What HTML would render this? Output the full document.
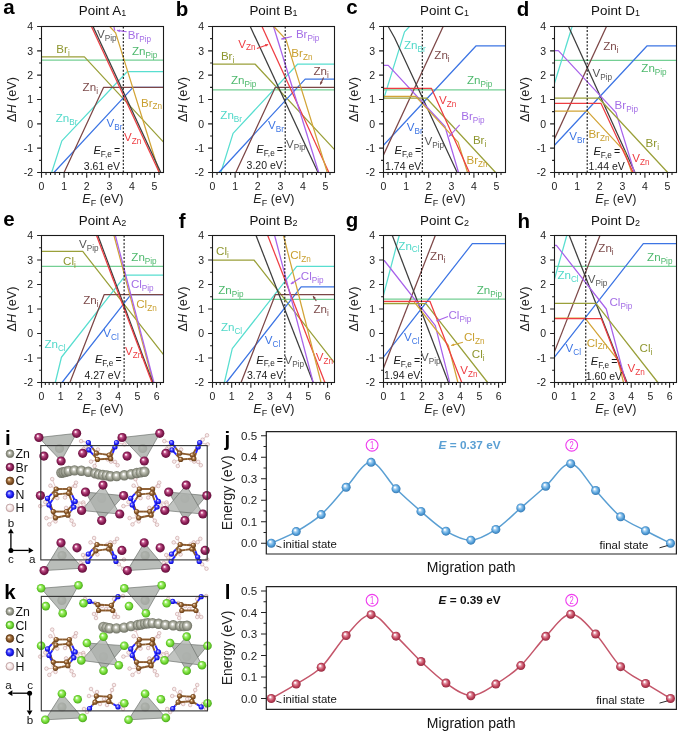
<!DOCTYPE html><html><head><meta charset="utf-8"><style>html,body{margin:0;padding:0;background:#fff;}svg{display:block;will-change:transform;}text{font-family:"Liberation Sans", sans-serif;}</style></head><body>
<svg width="685" height="731" viewBox="0 0 685 731">
<rect width="685" height="731" fill="#fff"/>
<defs><clipPath id="cpa"><rect x="41.50" y="26.50" width="122.00" height="146.00"/></clipPath><clipPath id="cpb"><rect x="212.50" y="26.50" width="122.00" height="146.00"/></clipPath><clipPath id="cpc"><rect x="383.50" y="26.50" width="122.00" height="146.00"/></clipPath><clipPath id="cpd"><rect x="554.50" y="26.50" width="122.00" height="146.00"/></clipPath><clipPath id="cpe"><rect x="41.50" y="235.50" width="122.00" height="147.00"/></clipPath><clipPath id="cpf"><rect x="212.50" y="235.50" width="122.00" height="147.00"/></clipPath><clipPath id="cpg"><rect x="383.50" y="235.50" width="122.00" height="147.00"/></clipPath><clipPath id="cph"><rect x="554.50" y="235.50" width="122.00" height="147.00"/></clipPath></defs>
<g clip-path="url(#cpa)" fill="none" stroke-width="1.25" stroke-linejoin="round"><polyline points="41.50,60.08 177.10,60.08" stroke="#74cf94"/><polyline points="41.50,56.92 84.44,56.92 165.80,144.52" stroke="#9aa03a"/><polyline points="51.67,172.50 61.84,140.87 127.38,71.52 177.10,71.52" stroke="#58ded0"/><polyline points="53.93,172.50 133.03,87.33 177.10,87.33" stroke="#3d75e4"/><polyline points="64.10,172.50 103.65,87.33 177.10,87.33" stroke="#7c4646"/><polyline points="109.30,26.01 115.63,32.83 159.25,172.50" stroke="#d2a437"/><polyline points="113.82,26.01 114.72,30.64" stroke="#a862ea"/><polyline points="91.45,26.50 159.25,172.50" stroke="#ee3d42"/><polyline points="93.03,26.50 160.83,172.50" stroke="#3d3d3d"/><line x1="123.31" y1="26.50" x2="123.31" y2="172.50" stroke="#111" stroke-width="1.1" stroke-dasharray="2,1.6"/></g><rect x="41.50" y="26.50" width="122.00" height="146.00" fill="none" stroke="#1a1a1a" stroke-width="1.1"/><path d="M41.50 172.50V177.70M46.02 172.50V175.00M50.54 172.50V175.00M55.06 172.50V175.00M59.58 172.50V175.00M64.10 172.50V177.70M68.62 172.50V175.00M73.14 172.50V175.00M77.66 172.50V175.00M82.18 172.50V175.00M86.70 172.50V177.70M91.22 172.50V175.00M95.74 172.50V175.00M100.26 172.50V175.00M104.78 172.50V175.00M109.30 172.50V177.70M113.82 172.50V175.00M118.34 172.50V175.00M122.86 172.50V175.00M127.38 172.50V175.00M131.90 172.50V177.70M136.42 172.50V175.00M140.94 172.50V175.00M145.46 172.50V175.00M149.98 172.50V175.00M154.50 172.50V177.70M159.02 172.50V175.00M37.10 172.50H41.50M39.10 160.33H41.50M37.10 148.17H41.50M39.10 136.00H41.50M37.10 123.83H41.50M39.10 111.67H41.50M37.10 99.50H41.50M39.10 87.33H41.50M37.10 75.17H41.50M39.10 63.00H41.50M37.10 50.83H41.50M39.10 38.67H41.50M37.10 26.50H41.50" stroke="#222" stroke-width="1.1" fill="none"/><g font-size="10.5" fill="#222"><text x="33.10" y="176.20" text-anchor="end">-2</text><text x="33.10" y="151.87" text-anchor="end">-1</text><text x="33.10" y="127.53" text-anchor="end">0</text><text x="33.10" y="103.20" text-anchor="end">1</text><text x="33.10" y="78.87" text-anchor="end">2</text><text x="33.10" y="54.53" text-anchor="end">3</text><text x="33.10" y="30.20" text-anchor="end">4</text><text x="41.50" y="189.80" text-anchor="middle">0</text><text x="64.10" y="189.80" text-anchor="middle">1</text><text x="86.70" y="189.80" text-anchor="middle">2</text><text x="109.30" y="189.80" text-anchor="middle">3</text><text x="131.90" y="189.80" text-anchor="middle">4</text><text x="154.50" y="189.80" text-anchor="middle">5</text></g><text x="102.90" y="203.20" font-size="12.6" fill="#222" text-anchor="middle"><tspan font-style="italic">E</tspan><tspan font-size="9" dy="2.6">F</tspan><tspan dy="-2.6"> (eV)</tspan></text><text transform="translate(15.90 99.50) rotate(-90)" font-size="12.6" fill="#222" text-anchor="middle">&#916;<tspan font-style="italic">H</tspan> (eV)</text><text x="102.50" y="14.60" font-size="13.4" fill="#111" text-anchor="middle">Point A<tspan font-size="9" dy="1.7">1</tspan></text><text x="97.00" y="38.00" font-size="11.6" fill="#555555">V<tspan font-size="8.2" dy="2.9">Pip</tspan></text><text x="127.70" y="39.10" font-size="11.6" fill="#a46ee6">Br<tspan font-size="8.2" dy="2.9">Pip</tspan></text><text x="56.30" y="52.80" font-size="11.6" fill="#8e962e">Br<tspan font-size="8.2" dy="2.9">i</tspan></text><text x="131.90" y="55.00" font-size="11.6" fill="#4db86c">Zn<tspan font-size="8.2" dy="2.9">Pip</tspan></text><text x="82.60" y="91.00" font-size="11.6" fill="#7c4a4a">Zn<tspan font-size="8.2" dy="2.9">i</tspan></text><text x="141.00" y="106.50" font-size="11.6" fill="#c9a030">Br<tspan font-size="8.2" dy="2.9">Zn</tspan></text><text x="55.70" y="121.70" font-size="11.6" fill="#4fd8c8">Zn<tspan font-size="8.2" dy="2.9">Br</tspan></text><text x="106.50" y="127.00" font-size="11.6" fill="#3d75e4">V<tspan font-size="8.2" dy="2.9">Br</tspan></text><text x="124.10" y="140.80" font-size="11.6" fill="#ee3d42">V<tspan font-size="8.2" dy="2.9">Zn</tspan></text><text x="93.40" y="154.40" font-size="11.2" fill="#1a1a1a"><tspan font-style="italic">E</tspan><tspan font-size="8.2" dy="2.6">F,e</tspan><tspan dy="-2.6" dx="-0.8" font-size="10.6"> =</tspan></text><text x="83.80" y="169.50" font-size="10.5" fill="#1a1a1a">3.61 eV</text><path d="M126.60 31.80L117.00 30.40" stroke="#a862ea" stroke-width="1.1" fill="none"/><path d="M117.00 30.40L120.05 29.44L119.65 32.19z" fill="#a862ea"/>
<g clip-path="url(#cpb)" fill="none" stroke-width="1.25" stroke-linejoin="round"><polyline points="212.50,89.77 348.10,89.77" stroke="#74cf94"/><polyline points="212.50,64.22 255.21,64.22 336.80,152.06" stroke="#9aa03a"/><polyline points="220.86,172.50 233.07,133.32 297.48,64.22 348.10,64.22" stroke="#58ded0"/><polyline points="218.83,172.50 305.16,79.06 348.10,79.06" stroke="#3d75e4"/><polyline points="235.78,172.50 275.33,87.33 348.10,87.33" stroke="#7c4646"/><polyline points="250.24,26.50 318.04,172.50" stroke="#3d3d3d"/><polyline points="261.99,26.50 328.89,172.50" stroke="#ee3d42"/><polyline points="273.52,26.50 318.72,172.50" stroke="#a862ea"/><polyline points="273.75,26.50 285.95,39.40 327.31,172.50" stroke="#d2a437"/><line x1="285.20" y1="26.50" x2="285.20" y2="172.50" stroke="#111" stroke-width="1.1" stroke-dasharray="2,1.6"/></g><rect x="212.50" y="26.50" width="122.00" height="146.00" fill="none" stroke="#1a1a1a" stroke-width="1.1"/><path d="M212.50 172.50V177.70M217.02 172.50V175.00M221.54 172.50V175.00M226.06 172.50V175.00M230.58 172.50V175.00M235.10 172.50V177.70M239.62 172.50V175.00M244.14 172.50V175.00M248.66 172.50V175.00M253.18 172.50V175.00M257.70 172.50V177.70M262.22 172.50V175.00M266.74 172.50V175.00M271.26 172.50V175.00M275.78 172.50V175.00M280.30 172.50V177.70M284.82 172.50V175.00M289.34 172.50V175.00M293.86 172.50V175.00M298.38 172.50V175.00M302.90 172.50V177.70M307.42 172.50V175.00M311.94 172.50V175.00M316.46 172.50V175.00M320.98 172.50V175.00M325.50 172.50V177.70M330.02 172.50V175.00M208.10 172.50H212.50M210.10 160.33H212.50M208.10 148.17H212.50M210.10 136.00H212.50M208.10 123.83H212.50M210.10 111.67H212.50M208.10 99.50H212.50M210.10 87.33H212.50M208.10 75.17H212.50M210.10 63.00H212.50M208.10 50.83H212.50M210.10 38.67H212.50M208.10 26.50H212.50" stroke="#222" stroke-width="1.1" fill="none"/><g font-size="10.5" fill="#222"><text x="204.10" y="176.20" text-anchor="end">-2</text><text x="204.10" y="151.87" text-anchor="end">-1</text><text x="204.10" y="127.53" text-anchor="end">0</text><text x="204.10" y="103.20" text-anchor="end">1</text><text x="204.10" y="78.87" text-anchor="end">2</text><text x="204.10" y="54.53" text-anchor="end">3</text><text x="204.10" y="30.20" text-anchor="end">4</text><text x="212.50" y="189.80" text-anchor="middle">0</text><text x="235.10" y="189.80" text-anchor="middle">1</text><text x="257.70" y="189.80" text-anchor="middle">2</text><text x="280.30" y="189.80" text-anchor="middle">3</text><text x="302.90" y="189.80" text-anchor="middle">4</text><text x="325.50" y="189.80" text-anchor="middle">5</text></g><text x="273.90" y="203.20" font-size="12.6" fill="#222" text-anchor="middle"><tspan font-style="italic">E</tspan><tspan font-size="9" dy="2.6">F</tspan><tspan dy="-2.6"> (eV)</tspan></text><text transform="translate(186.90 99.50) rotate(-90)" font-size="12.6" fill="#222" text-anchor="middle">&#916;<tspan font-style="italic">H</tspan> (eV)</text><text x="273.50" y="14.60" font-size="13.4" fill="#111" text-anchor="middle">Point B<tspan font-size="9" dy="1.7">1</tspan></text><text x="238.30" y="47.50" font-size="11.6" fill="#ee3d42">V<tspan font-size="8.2" dy="2.9">Zn</tspan></text><text x="295.90" y="38.00" font-size="11.6" fill="#a46ee6">Br<tspan font-size="8.2" dy="2.9">Pip</tspan></text><text x="220.90" y="60.30" font-size="11.6" fill="#8e962e">Br<tspan font-size="8.2" dy="2.9">i</tspan></text><text x="291.30" y="57.10" font-size="11.6" fill="#c9a030">Br<tspan font-size="8.2" dy="2.9">Zn</tspan></text><text x="313.50" y="74.70" font-size="11.6" fill="#7c4a4a">Zn<tspan font-size="8.2" dy="2.9">i</tspan></text><text x="230.90" y="83.60" font-size="11.6" fill="#4db86c">Zn<tspan font-size="8.2" dy="2.9">Pip</tspan></text><text x="220.30" y="119.20" font-size="11.6" fill="#4fd8c8">Zn<tspan font-size="8.2" dy="2.9">Br</tspan></text><text x="268.00" y="129.10" font-size="11.6" fill="#3d75e4">V<tspan font-size="8.2" dy="2.9">Br</tspan></text><text x="286.00" y="147.50" font-size="11.6" fill="#555555">V<tspan font-size="8.2" dy="2.9">Pip</tspan></text><text x="256.30" y="152.90" font-size="11.2" fill="#1a1a1a"><tspan font-style="italic">E</tspan><tspan font-size="8.2" dy="2.6">F,e</tspan><tspan dy="-2.6" dx="-0.8" font-size="10.6"> =</tspan></text><text x="246.60" y="169.10" font-size="10.5" fill="#1a1a1a">3.20 eV</text><path d="M256.90 48.60L268.10 44.40" stroke="#ee3d42" stroke-width="1.1" fill="none"/><path d="M268.10 44.40L265.89 46.72L264.91 44.11z" fill="#ee3d42"/><path d="M291.90 36.50L281.30 39.10" stroke="#a862ea" stroke-width="1.1" fill="none"/><path d="M281.30 39.10L283.77 37.06L284.43 39.77z" fill="#a862ea"/><path d="M323.60 77.40L320.30 84.60" stroke="#7c4646" stroke-width="1.1" fill="none"/><path d="M320.30 84.60L320.24 81.40L322.77 82.56z" fill="#7c4646"/>
<g clip-path="url(#cpc)" fill="none" stroke-width="1.25" stroke-linejoin="round"><polyline points="383.50,89.77 519.10,89.77" stroke="#74cf94"/><polyline points="383.50,99.50 404.52,31.85 409.49,26.50" stroke="#58ded0"/><polyline points="383.50,145.25 475.93,45.97 519.10,45.97" stroke="#3d75e4"/><polyline points="383.50,154.98 443.16,26.50" stroke="#7c4646"/><polyline points="388.25,26.50 394.57,37.69 457.18,172.50" stroke="#3d3d3d"/><polyline points="383.50,65.43 388.25,65.43 444.97,126.51 458.53,172.50" stroke="#a862ea"/><polyline points="383.50,98.04 426.44,98.04 495.60,172.50" stroke="#9aa03a"/><polyline points="383.50,96.34 415.59,96.34 458.08,142.08 467.57,172.50" stroke="#d2a437"/><polyline points="383.50,88.31 431.41,88.31 469.38,172.50" stroke="#ee3d42"/><line x1="422.30" y1="26.50" x2="422.30" y2="172.50" stroke="#111" stroke-width="1.1" stroke-dasharray="2,1.6"/></g><rect x="383.50" y="26.50" width="122.00" height="146.00" fill="none" stroke="#1a1a1a" stroke-width="1.1"/><path d="M383.50 172.50V177.70M388.02 172.50V175.00M392.54 172.50V175.00M397.06 172.50V175.00M401.58 172.50V175.00M406.10 172.50V177.70M410.62 172.50V175.00M415.14 172.50V175.00M419.66 172.50V175.00M424.18 172.50V175.00M428.70 172.50V177.70M433.22 172.50V175.00M437.74 172.50V175.00M442.26 172.50V175.00M446.78 172.50V175.00M451.30 172.50V177.70M455.82 172.50V175.00M460.34 172.50V175.00M464.86 172.50V175.00M469.38 172.50V175.00M473.90 172.50V177.70M478.42 172.50V175.00M482.94 172.50V175.00M487.46 172.50V175.00M491.98 172.50V175.00M496.50 172.50V177.70M501.02 172.50V175.00M379.10 172.50H383.50M381.10 160.33H383.50M379.10 148.17H383.50M381.10 136.00H383.50M379.10 123.83H383.50M381.10 111.67H383.50M379.10 99.50H383.50M381.10 87.33H383.50M379.10 75.17H383.50M381.10 63.00H383.50M379.10 50.83H383.50M381.10 38.67H383.50M379.10 26.50H383.50" stroke="#222" stroke-width="1.1" fill="none"/><g font-size="10.5" fill="#222"><text x="375.10" y="176.20" text-anchor="end">-2</text><text x="375.10" y="151.87" text-anchor="end">-1</text><text x="375.10" y="127.53" text-anchor="end">0</text><text x="375.10" y="103.20" text-anchor="end">1</text><text x="375.10" y="78.87" text-anchor="end">2</text><text x="375.10" y="54.53" text-anchor="end">3</text><text x="375.10" y="30.20" text-anchor="end">4</text><text x="383.50" y="189.80" text-anchor="middle">0</text><text x="406.10" y="189.80" text-anchor="middle">1</text><text x="428.70" y="189.80" text-anchor="middle">2</text><text x="451.30" y="189.80" text-anchor="middle">3</text><text x="473.90" y="189.80" text-anchor="middle">4</text><text x="496.50" y="189.80" text-anchor="middle">5</text></g><text x="444.90" y="203.20" font-size="12.6" fill="#222" text-anchor="middle"><tspan font-style="italic">E</tspan><tspan font-size="9" dy="2.6">F</tspan><tspan dy="-2.6"> (eV)</tspan></text><text transform="translate(357.90 99.50) rotate(-90)" font-size="12.6" fill="#222" text-anchor="middle">&#916;<tspan font-style="italic">H</tspan> (eV)</text><text x="444.50" y="14.60" font-size="13.4" fill="#111" text-anchor="middle">Point C<tspan font-size="9" dy="1.7">1</tspan></text><text x="404.00" y="48.60" font-size="11.6" fill="#4fd8c8">Zn<tspan font-size="8.2" dy="2.9">Br</tspan></text><text x="434.30" y="59.20" font-size="11.6" fill="#7c4a4a">Zn<tspan font-size="8.2" dy="2.9">i</tspan></text><text x="466.90" y="83.60" font-size="11.6" fill="#4db86c">Zn<tspan font-size="8.2" dy="2.9">Pip</tspan></text><text x="439.00" y="104.30" font-size="11.6" fill="#ee3d42">V<tspan font-size="8.2" dy="2.9">Zn</tspan></text><text x="461.20" y="119.60" font-size="11.6" fill="#a46ee6">Br<tspan font-size="8.2" dy="2.9">Pip</tspan></text><text x="406.80" y="131.30" font-size="11.6" fill="#3d75e4">V<tspan font-size="8.2" dy="2.9">Br</tspan></text><text x="472.90" y="144.00" font-size="11.6" fill="#8e962e">Br<tspan font-size="8.2" dy="2.9">i</tspan></text><text x="424.60" y="145.00" font-size="11.6" fill="#555555">V<tspan font-size="8.2" dy="2.9">Pip</tspan></text><text x="466.50" y="164.10" font-size="11.6" fill="#c9a030">Br<tspan font-size="8.2" dy="2.9">Zn</tspan></text><text x="394.50" y="154.40" font-size="11.2" fill="#1a1a1a"><tspan font-style="italic">E</tspan><tspan font-size="8.2" dy="2.6">F,e</tspan><tspan dy="-2.6" dx="-0.8" font-size="10.6"> =</tspan></text><text x="385.10" y="169.50" font-size="10.5" fill="#1a1a1a">1.74 eV</text><path d="M459.70 124.90L449.10 136.50" stroke="#a862ea" stroke-width="1.1" fill="none"/><path d="M449.10 136.50L450.02 133.43L452.07 135.31z" fill="#a862ea"/>
<g clip-path="url(#cpd)" fill="none" stroke-width="1.25" stroke-linejoin="round"><polyline points="554.50,60.32 690.10,60.32" stroke="#74cf94"/><polyline points="554.50,83.20 572.13,26.50" stroke="#58ded0"/><polyline points="554.50,145.25 646.93,45.97 690.10,45.97" stroke="#3d75e4"/><polyline points="554.50,138.68 606.48,26.50" stroke="#7c4646"/><polyline points="568.51,26.50 634.96,172.50" stroke="#3d3d3d"/><polyline points="554.50,50.59 558.34,50.59 615.97,112.64 634.50,172.50" stroke="#a862ea"/><polyline points="554.50,98.04 598.57,98.04 667.73,172.50" stroke="#9aa03a"/><polyline points="554.50,111.18 587.27,111.18 624.56,151.33 631.79,172.50" stroke="#d2a437"/><polyline points="554.50,103.39 601.06,103.39 633.15,172.50" stroke="#ee3d42"/><line x1="587.20" y1="26.50" x2="587.20" y2="172.50" stroke="#111" stroke-width="1.1" stroke-dasharray="2,1.6"/></g><rect x="554.50" y="26.50" width="122.00" height="146.00" fill="none" stroke="#1a1a1a" stroke-width="1.1"/><path d="M554.50 172.50V177.70M559.02 172.50V175.00M563.54 172.50V175.00M568.06 172.50V175.00M572.58 172.50V175.00M577.10 172.50V177.70M581.62 172.50V175.00M586.14 172.50V175.00M590.66 172.50V175.00M595.18 172.50V175.00M599.70 172.50V177.70M604.22 172.50V175.00M608.74 172.50V175.00M613.26 172.50V175.00M617.78 172.50V175.00M622.30 172.50V177.70M626.82 172.50V175.00M631.34 172.50V175.00M635.86 172.50V175.00M640.38 172.50V175.00M644.90 172.50V177.70M649.42 172.50V175.00M653.94 172.50V175.00M658.46 172.50V175.00M662.98 172.50V175.00M667.50 172.50V177.70M672.02 172.50V175.00M550.10 172.50H554.50M552.10 160.33H554.50M550.10 148.17H554.50M552.10 136.00H554.50M550.10 123.83H554.50M552.10 111.67H554.50M550.10 99.50H554.50M552.10 87.33H554.50M550.10 75.17H554.50M552.10 63.00H554.50M550.10 50.83H554.50M552.10 38.67H554.50M550.10 26.50H554.50" stroke="#222" stroke-width="1.1" fill="none"/><g font-size="10.5" fill="#222"><text x="546.10" y="176.20" text-anchor="end">-2</text><text x="546.10" y="151.87" text-anchor="end">-1</text><text x="546.10" y="127.53" text-anchor="end">0</text><text x="546.10" y="103.20" text-anchor="end">1</text><text x="546.10" y="78.87" text-anchor="end">2</text><text x="546.10" y="54.53" text-anchor="end">3</text><text x="546.10" y="30.20" text-anchor="end">4</text><text x="554.50" y="189.80" text-anchor="middle">0</text><text x="577.10" y="189.80" text-anchor="middle">1</text><text x="599.70" y="189.80" text-anchor="middle">2</text><text x="622.30" y="189.80" text-anchor="middle">3</text><text x="644.90" y="189.80" text-anchor="middle">4</text><text x="667.50" y="189.80" text-anchor="middle">5</text></g><text x="615.90" y="203.20" font-size="12.6" fill="#222" text-anchor="middle"><tspan font-style="italic">E</tspan><tspan font-size="9" dy="2.6">F</tspan><tspan dy="-2.6"> (eV)</tspan></text><text transform="translate(528.90 99.50) rotate(-90)" font-size="12.6" fill="#222" text-anchor="middle">&#916;<tspan font-style="italic">H</tspan> (eV)</text><text x="615.50" y="14.60" font-size="13.4" fill="#111" text-anchor="middle">Point D<tspan font-size="9" dy="1.7">1</tspan></text><text x="603.20" y="49.70" font-size="11.6" fill="#7c4a4a">Zn<tspan font-size="8.2" dy="2.9">i</tspan></text><text x="592.60" y="76.80" font-size="11.6" fill="#555555">V<tspan font-size="8.2" dy="2.9">Pip</tspan></text><text x="641.30" y="71.90" font-size="11.6" fill="#4db86c">Zn<tspan font-size="8.2" dy="2.9">Pip</tspan></text><text x="614.60" y="108.60" font-size="11.6" fill="#a46ee6">Br<tspan font-size="8.2" dy="2.9">Pip</tspan></text><text x="569.30" y="139.70" font-size="11.6" fill="#3d75e4">V<tspan font-size="8.2" dy="2.9">Br</tspan></text><text x="588.40" y="137.60" font-size="11.6" fill="#c9a030">Br<tspan font-size="8.2" dy="2.9">Zn</tspan></text><text x="645.60" y="147.10" font-size="11.6" fill="#8e962e">Br<tspan font-size="8.2" dy="2.9">i</tspan></text><text x="632.20" y="162.40" font-size="11.6" fill="#ee3d42">V<tspan font-size="8.2" dy="2.9">Zn</tspan></text><text x="593.40" y="155.40" font-size="11.2" fill="#1a1a1a"><tspan font-style="italic">E</tspan><tspan font-size="8.2" dy="2.6">F,e</tspan><tspan dy="-2.6" dx="-0.8" font-size="10.6"> =</tspan></text><text x="588.60" y="169.50" font-size="10.5" fill="#1a1a1a">1.44 eV</text>
<g clip-path="url(#cpe)" fill="none" stroke-width="1.25" stroke-linejoin="round"><polyline points="41.50,266.37 175.76,266.37" stroke="#74cf94"/><polyline points="41.50,251.43 82.74,251.43 166.17,358.00" stroke="#9aa03a"/><polyline points="55.31,382.50 61.45,357.26 125.70,275.19 175.76,275.19" stroke="#58ded0"/><polyline points="62.02,382.50 130.88,294.55 175.76,294.55" stroke="#3d75e4"/><polyline points="69.89,382.50 104.22,294.55 175.76,294.55" stroke="#7c4646"/><polyline points="114.00,235.50 153.13,382.50" stroke="#d2a437"/><polyline points="115.34,235.50 153.89,382.50" stroke="#a862ea"/><polyline points="97.89,235.50 152.74,382.50" stroke="#3d3d3d"/><polyline points="96.55,235.50 151.98,382.50" stroke="#ee3d42"/><line x1="124.11" y1="235.50" x2="124.11" y2="382.50" stroke="#111" stroke-width="1.1" stroke-dasharray="2,1.6"/></g><rect x="41.50" y="235.50" width="122.00" height="147.00" fill="none" stroke="#1a1a1a" stroke-width="1.1"/><path d="M41.50 382.50V387.70M45.34 382.50V385.00M49.17 382.50V385.00M53.01 382.50V385.00M56.84 382.50V385.00M60.68 382.50V387.70M64.52 382.50V385.00M68.35 382.50V385.00M72.19 382.50V385.00M76.02 382.50V385.00M79.86 382.50V387.70M83.70 382.50V385.00M87.53 382.50V385.00M91.37 382.50V385.00M95.20 382.50V385.00M99.04 382.50V387.70M102.88 382.50V385.00M106.71 382.50V385.00M110.55 382.50V385.00M114.38 382.50V385.00M118.22 382.50V387.70M122.06 382.50V385.00M125.89 382.50V385.00M129.73 382.50V385.00M133.56 382.50V385.00M137.40 382.50V387.70M141.24 382.50V385.00M145.07 382.50V385.00M148.91 382.50V385.00M152.74 382.50V385.00M156.58 382.50V387.70M160.42 382.50V385.00M37.10 382.50H41.50M39.10 370.25H41.50M37.10 358.00H41.50M39.10 345.75H41.50M37.10 333.50H41.50M39.10 321.25H41.50M37.10 309.00H41.50M39.10 296.75H41.50M37.10 284.50H41.50M39.10 272.25H41.50M37.10 260.00H41.50M39.10 247.75H41.50M37.10 235.50H41.50" stroke="#222" stroke-width="1.1" fill="none"/><g font-size="10.5" fill="#222"><text x="33.10" y="386.20" text-anchor="end">-2</text><text x="33.10" y="361.70" text-anchor="end">-1</text><text x="33.10" y="337.20" text-anchor="end">0</text><text x="33.10" y="312.70" text-anchor="end">1</text><text x="33.10" y="288.20" text-anchor="end">2</text><text x="33.10" y="263.70" text-anchor="end">3</text><text x="33.10" y="239.20" text-anchor="end">4</text><text x="41.50" y="399.80" text-anchor="middle">0</text><text x="60.68" y="399.80" text-anchor="middle">1</text><text x="79.86" y="399.80" text-anchor="middle">2</text><text x="99.04" y="399.80" text-anchor="middle">3</text><text x="118.22" y="399.80" text-anchor="middle">4</text><text x="137.40" y="399.80" text-anchor="middle">5</text><text x="156.58" y="399.80" text-anchor="middle">6</text></g><text x="102.90" y="413.20" font-size="12.6" fill="#222" text-anchor="middle"><tspan font-style="italic">E</tspan><tspan font-size="9" dy="2.6">F</tspan><tspan dy="-2.6"> (eV)</tspan></text><text transform="translate(15.90 309.00) rotate(-90)" font-size="12.6" fill="#222" text-anchor="middle">&#916;<tspan font-style="italic">H</tspan> (eV)</text><text x="102.50" y="224.60" font-size="13.4" fill="#111" text-anchor="middle">Point A<tspan font-size="9" dy="1.7">2</tspan></text><text x="79.00" y="248.00" font-size="11.6" fill="#555555">V<tspan font-size="8.2" dy="2.9">Pip</tspan></text><text x="131.30" y="260.70" font-size="11.6" fill="#4db86c">Zn<tspan font-size="8.2" dy="2.9">Pip</tspan></text><text x="63.10" y="265.00" font-size="11.6" fill="#8e962e">Cl<tspan font-size="8.2" dy="2.9">i</tspan></text><text x="130.90" y="288.30" font-size="11.6" fill="#a46ee6">Cl<tspan font-size="8.2" dy="2.9">Pip</tspan></text><text x="83.20" y="303.70" font-size="11.6" fill="#7c4a4a">Zn<tspan font-size="8.2" dy="2.9">i</tspan></text><text x="136.20" y="308.40" font-size="11.6" fill="#c9a030">Cl<tspan font-size="8.2" dy="2.9">Zn</tspan></text><text x="103.30" y="337.00" font-size="11.6" fill="#3d75e4">V<tspan font-size="8.2" dy="2.9">Cl</tspan></text><text x="44.40" y="347.60" font-size="11.6" fill="#4fd8c8">Zn<tspan font-size="8.2" dy="2.9">Cl</tspan></text><text x="124.90" y="355.40" font-size="11.6" fill="#ee3d42">V<tspan font-size="8.2" dy="2.9">Zn</tspan></text><text x="94.90" y="362.90" font-size="11.2" fill="#1a1a1a"><tspan font-style="italic">E</tspan><tspan font-size="8.2" dy="2.6">F,e</tspan><tspan dy="-2.6" dx="-0.8" font-size="10.6"> =</tspan></text><text x="84.50" y="378.50" font-size="10.5" fill="#1a1a1a">4.27 eV</text>
<g clip-path="url(#cpf)" fill="none" stroke-width="1.25" stroke-linejoin="round"><polyline points="212.50,299.44 346.76,299.44" stroke="#74cf94"/><polyline points="212.50,260.00 253.93,260.00 337.17,366.33" stroke="#9aa03a"/><polyline points="224.39,382.50 232.26,348.69 296.70,266.37 346.76,266.37" stroke="#58ded0"/><polyline points="226.31,382.50 301.11,286.95 346.76,286.95" stroke="#3d75e4"/><polyline points="241.08,382.50 275.41,294.55 346.76,294.55" stroke="#7c4646"/><polyline points="256.04,235.50 313.19,382.50" stroke="#3d3d3d"/><polyline points="267.74,235.50 324.89,382.50" stroke="#ee3d42"/><polyline points="274.64,235.50 313.19,382.50" stroke="#a862ea"/><polyline points="283.47,235.50 321.06,382.50" stroke="#d2a437"/><line x1="284.81" y1="235.50" x2="284.81" y2="382.50" stroke="#111" stroke-width="1.1" stroke-dasharray="2,1.6"/></g><rect x="212.50" y="235.50" width="122.00" height="147.00" fill="none" stroke="#1a1a1a" stroke-width="1.1"/><path d="M212.50 382.50V387.70M216.34 382.50V385.00M220.17 382.50V385.00M224.01 382.50V385.00M227.84 382.50V385.00M231.68 382.50V387.70M235.52 382.50V385.00M239.35 382.50V385.00M243.19 382.50V385.00M247.02 382.50V385.00M250.86 382.50V387.70M254.70 382.50V385.00M258.53 382.50V385.00M262.37 382.50V385.00M266.20 382.50V385.00M270.04 382.50V387.70M273.88 382.50V385.00M277.71 382.50V385.00M281.55 382.50V385.00M285.38 382.50V385.00M289.22 382.50V387.70M293.06 382.50V385.00M296.89 382.50V385.00M300.73 382.50V385.00M304.56 382.50V385.00M308.40 382.50V387.70M312.24 382.50V385.00M316.07 382.50V385.00M319.91 382.50V385.00M323.74 382.50V385.00M327.58 382.50V387.70M331.42 382.50V385.00M208.10 382.50H212.50M210.10 370.25H212.50M208.10 358.00H212.50M210.10 345.75H212.50M208.10 333.50H212.50M210.10 321.25H212.50M208.10 309.00H212.50M210.10 296.75H212.50M208.10 284.50H212.50M210.10 272.25H212.50M208.10 260.00H212.50M210.10 247.75H212.50M208.10 235.50H212.50" stroke="#222" stroke-width="1.1" fill="none"/><g font-size="10.5" fill="#222"><text x="204.10" y="386.20" text-anchor="end">-2</text><text x="204.10" y="361.70" text-anchor="end">-1</text><text x="204.10" y="337.20" text-anchor="end">0</text><text x="204.10" y="312.70" text-anchor="end">1</text><text x="204.10" y="288.20" text-anchor="end">2</text><text x="204.10" y="263.70" text-anchor="end">3</text><text x="204.10" y="239.20" text-anchor="end">4</text><text x="212.50" y="399.80" text-anchor="middle">0</text><text x="231.68" y="399.80" text-anchor="middle">1</text><text x="250.86" y="399.80" text-anchor="middle">2</text><text x="270.04" y="399.80" text-anchor="middle">3</text><text x="289.22" y="399.80" text-anchor="middle">4</text><text x="308.40" y="399.80" text-anchor="middle">5</text><text x="327.58" y="399.80" text-anchor="middle">6</text></g><text x="273.90" y="413.20" font-size="12.6" fill="#222" text-anchor="middle"><tspan font-style="italic">E</tspan><tspan font-size="9" dy="2.6">F</tspan><tspan dy="-2.6"> (eV)</tspan></text><text transform="translate(186.90 309.00) rotate(-90)" font-size="12.6" fill="#222" text-anchor="middle">&#916;<tspan font-style="italic">H</tspan> (eV)</text><text x="273.50" y="224.60" font-size="13.4" fill="#111" text-anchor="middle">Point B<tspan font-size="9" dy="1.7">2</tspan></text><text x="216.10" y="255.00" font-size="11.6" fill="#8e962e">Cl<tspan font-size="8.2" dy="2.9">i</tspan></text><text x="290.20" y="258.60" font-size="11.6" fill="#c9a030">Cl<tspan font-size="8.2" dy="2.9">Zn</tspan></text><text x="300.80" y="279.80" font-size="11.6" fill="#a46ee6">Cl<tspan font-size="8.2" dy="2.9">Pip</tspan></text><text x="218.20" y="293.60" font-size="11.6" fill="#4db86c">Zn<tspan font-size="8.2" dy="2.9">Pip</tspan></text><text x="313.50" y="312.60" font-size="11.6" fill="#7c4a4a">Zn<tspan font-size="8.2" dy="2.9">i</tspan></text><text x="220.90" y="330.70" font-size="11.6" fill="#4fd8c8">Zn<tspan font-size="8.2" dy="2.9">Cl</tspan></text><text x="264.80" y="344.40" font-size="11.6" fill="#3d75e4">V<tspan font-size="8.2" dy="2.9">Cl</tspan></text><text x="284.50" y="363.80" font-size="11.6" fill="#555555">V<tspan font-size="8.2" dy="2.9">Pip</tspan></text><text x="315.70" y="361.40" font-size="11.6" fill="#ee3d42">V<tspan font-size="8.2" dy="2.9">Zn</tspan></text><text x="256.30" y="363.60" font-size="11.2" fill="#1a1a1a"><tspan font-style="italic">E</tspan><tspan font-size="8.2" dy="2.6">F,e</tspan><tspan dy="-2.6" dx="-0.8" font-size="10.6"> =</tspan></text><text x="247.00" y="378.50" font-size="10.5" fill="#1a1a1a">3.74 eV</text><path d="M300.40 277.70L290.80 284.00" stroke="#a862ea" stroke-width="1.1" fill="none"/><path d="M290.80 284.00L292.45 281.26L293.97 283.58z" fill="#a862ea"/><path d="M316.30 301.00L313.10 296.10" stroke="#7c4646" stroke-width="1.1" fill="none"/><path d="M313.10 296.10L315.84 297.75L313.51 299.27z" fill="#7c4646"/>
<g clip-path="url(#cpg)" fill="none" stroke-width="1.25" stroke-linejoin="round"><polyline points="383.50,299.20 517.76,299.20" stroke="#74cf94"/><polyline points="383.50,295.03 399.23,235.50" stroke="#58ded0"/><polyline points="383.50,357.02 472.30,243.59 517.76,243.59" stroke="#3d75e4"/><polyline points="383.50,368.05 435.29,235.50" stroke="#7c4646"/><polyline points="392.32,235.50 448.52,382.50" stroke="#3d3d3d"/><polyline points="383.50,260.74 384.46,260.74 435.29,325.66 449.67,382.50" stroke="#a862ea"/><polyline points="383.50,303.61 425.89,303.61 487.65,382.50" stroke="#9aa03a"/><polyline points="383.50,301.53 414.00,301.53 448.33,345.50 457.92,382.50" stroke="#d2a437"/><polyline points="383.50,301.28 429.92,301.28 461.75,382.50" stroke="#ee3d42"/><line x1="421.48" y1="235.50" x2="421.48" y2="382.50" stroke="#111" stroke-width="1.1" stroke-dasharray="2,1.6"/></g><rect x="383.50" y="235.50" width="122.00" height="147.00" fill="none" stroke="#1a1a1a" stroke-width="1.1"/><path d="M383.50 382.50V387.70M387.34 382.50V385.00M391.17 382.50V385.00M395.01 382.50V385.00M398.84 382.50V385.00M402.68 382.50V387.70M406.52 382.50V385.00M410.35 382.50V385.00M414.19 382.50V385.00M418.02 382.50V385.00M421.86 382.50V387.70M425.70 382.50V385.00M429.53 382.50V385.00M433.37 382.50V385.00M437.20 382.50V385.00M441.04 382.50V387.70M444.88 382.50V385.00M448.71 382.50V385.00M452.55 382.50V385.00M456.38 382.50V385.00M460.22 382.50V387.70M464.06 382.50V385.00M467.89 382.50V385.00M471.73 382.50V385.00M475.56 382.50V385.00M479.40 382.50V387.70M483.24 382.50V385.00M487.07 382.50V385.00M490.91 382.50V385.00M494.74 382.50V385.00M498.58 382.50V387.70M502.42 382.50V385.00M379.10 382.50H383.50M381.10 370.25H383.50M379.10 358.00H383.50M381.10 345.75H383.50M379.10 333.50H383.50M381.10 321.25H383.50M379.10 309.00H383.50M381.10 296.75H383.50M379.10 284.50H383.50M381.10 272.25H383.50M379.10 260.00H383.50M381.10 247.75H383.50M379.10 235.50H383.50" stroke="#222" stroke-width="1.1" fill="none"/><g font-size="10.5" fill="#222"><text x="375.10" y="386.20" text-anchor="end">-2</text><text x="375.10" y="361.70" text-anchor="end">-1</text><text x="375.10" y="337.20" text-anchor="end">0</text><text x="375.10" y="312.70" text-anchor="end">1</text><text x="375.10" y="288.20" text-anchor="end">2</text><text x="375.10" y="263.70" text-anchor="end">3</text><text x="375.10" y="239.20" text-anchor="end">4</text><text x="383.50" y="399.80" text-anchor="middle">0</text><text x="402.68" y="399.80" text-anchor="middle">1</text><text x="421.86" y="399.80" text-anchor="middle">2</text><text x="441.04" y="399.80" text-anchor="middle">3</text><text x="460.22" y="399.80" text-anchor="middle">4</text><text x="479.40" y="399.80" text-anchor="middle">5</text><text x="498.58" y="399.80" text-anchor="middle">6</text></g><text x="444.90" y="413.20" font-size="12.6" fill="#222" text-anchor="middle"><tspan font-style="italic">E</tspan><tspan font-size="9" dy="2.6">F</tspan><tspan dy="-2.6"> (eV)</tspan></text><text transform="translate(357.90 309.00) rotate(-90)" font-size="12.6" fill="#222" text-anchor="middle">&#916;<tspan font-style="italic">H</tspan> (eV)</text><text x="444.50" y="224.60" font-size="13.4" fill="#111" text-anchor="middle">Point C<tspan font-size="9" dy="1.7">2</tspan></text><text x="398.30" y="249.50" font-size="11.6" fill="#4fd8c8">Zn<tspan font-size="8.2" dy="2.9">Cl</tspan></text><text x="430.10" y="260.10" font-size="11.6" fill="#7c4a4a">Zn<tspan font-size="8.2" dy="2.9">i</tspan></text><text x="476.70" y="293.60" font-size="11.6" fill="#4db86c">Zn<tspan font-size="8.2" dy="2.9">Pip</tspan></text><text x="448.50" y="319.00" font-size="11.6" fill="#a46ee6">Cl<tspan font-size="8.2" dy="2.9">Pip</tspan></text><text x="464.00" y="341.30" font-size="11.6" fill="#c9a030">Cl<tspan font-size="8.2" dy="2.9">Zn</tspan></text><text x="404.00" y="341.30" font-size="11.6" fill="#3d75e4">V<tspan font-size="8.2" dy="2.9">Cl</tspan></text><text x="471.80" y="358.20" font-size="11.6" fill="#8e962e">Cl<tspan font-size="8.2" dy="2.9">i</tspan></text><text x="421.00" y="361.00" font-size="11.6" fill="#555555">V<tspan font-size="8.2" dy="2.9">Pip</tspan></text><text x="460.20" y="374.10" font-size="11.6" fill="#ee3d42">V<tspan font-size="8.2" dy="2.9">Zn</tspan></text><text x="393.40" y="363.90" font-size="11.2" fill="#1a1a1a"><tspan font-style="italic">E</tspan><tspan font-size="8.2" dy="2.6">F,e</tspan><tspan dy="-2.6" dx="-0.8" font-size="10.6"> =</tspan></text><text x="384.10" y="379.10" font-size="10.5" fill="#1a1a1a">1.94 eV</text><path d="M448.00 316.50L436.40 321.10" stroke="#a862ea" stroke-width="1.1" fill="none"/><path d="M436.40 321.10L438.57 318.74L439.59 321.33z" fill="#a862ea"/><path d="M462.90 342.30L451.20 345.50" stroke="#d2a437" stroke-width="1.1" fill="none"/><path d="M451.20 345.50L453.61 343.40L454.35 346.08z" fill="#d2a437"/>
<g clip-path="url(#cph)" fill="none" stroke-width="1.25" stroke-linejoin="round"><polyline points="554.50,266.37 688.76,266.37" stroke="#74cf94"/><polyline points="554.50,279.11 566.78,235.50" stroke="#58ded0"/><polyline points="554.50,357.02 643.30,243.59 688.76,243.59" stroke="#3d75e4"/><polyline points="554.50,351.63 599.96,235.50" stroke="#7c4646"/><polyline points="569.27,235.50 627.00,382.50" stroke="#3d3d3d"/><polyline points="554.50,245.30 556.42,245.30 606.29,309.00 625.85,382.50" stroke="#a862ea"/><polyline points="554.50,303.37 595.93,303.37 657.88,382.50" stroke="#9aa03a"/><polyline points="554.50,318.06 585.00,318.06 617.79,359.96 623.55,382.50" stroke="#d2a437"/><polyline points="554.50,318.56 601.30,318.56 626.23,382.50" stroke="#ee3d42"/><line x1="585.76" y1="235.50" x2="585.76" y2="382.50" stroke="#111" stroke-width="1.1" stroke-dasharray="2,1.6"/></g><rect x="554.50" y="235.50" width="122.00" height="147.00" fill="none" stroke="#1a1a1a" stroke-width="1.1"/><path d="M554.50 382.50V387.70M558.34 382.50V385.00M562.17 382.50V385.00M566.01 382.50V385.00M569.84 382.50V385.00M573.68 382.50V387.70M577.52 382.50V385.00M581.35 382.50V385.00M585.19 382.50V385.00M589.02 382.50V385.00M592.86 382.50V387.70M596.70 382.50V385.00M600.53 382.50V385.00M604.37 382.50V385.00M608.20 382.50V385.00M612.04 382.50V387.70M615.88 382.50V385.00M619.71 382.50V385.00M623.55 382.50V385.00M627.38 382.50V385.00M631.22 382.50V387.70M635.06 382.50V385.00M638.89 382.50V385.00M642.73 382.50V385.00M646.56 382.50V385.00M650.40 382.50V387.70M654.24 382.50V385.00M658.07 382.50V385.00M661.91 382.50V385.00M665.74 382.50V385.00M669.58 382.50V387.70M673.42 382.50V385.00M550.10 382.50H554.50M552.10 370.25H554.50M550.10 358.00H554.50M552.10 345.75H554.50M550.10 333.50H554.50M552.10 321.25H554.50M550.10 309.00H554.50M552.10 296.75H554.50M550.10 284.50H554.50M552.10 272.25H554.50M550.10 260.00H554.50M552.10 247.75H554.50M550.10 235.50H554.50" stroke="#222" stroke-width="1.1" fill="none"/><g font-size="10.5" fill="#222"><text x="546.10" y="386.20" text-anchor="end">-2</text><text x="546.10" y="361.70" text-anchor="end">-1</text><text x="546.10" y="337.20" text-anchor="end">0</text><text x="546.10" y="312.70" text-anchor="end">1</text><text x="546.10" y="288.20" text-anchor="end">2</text><text x="546.10" y="263.70" text-anchor="end">3</text><text x="546.10" y="239.20" text-anchor="end">4</text><text x="554.50" y="399.80" text-anchor="middle">0</text><text x="573.68" y="399.80" text-anchor="middle">1</text><text x="592.86" y="399.80" text-anchor="middle">2</text><text x="612.04" y="399.80" text-anchor="middle">3</text><text x="631.22" y="399.80" text-anchor="middle">4</text><text x="650.40" y="399.80" text-anchor="middle">5</text><text x="669.58" y="399.80" text-anchor="middle">6</text></g><text x="615.90" y="413.20" font-size="12.6" fill="#222" text-anchor="middle"><tspan font-style="italic">E</tspan><tspan font-size="9" dy="2.6">F</tspan><tspan dy="-2.6"> (eV)</tspan></text><text transform="translate(528.90 309.00) rotate(-90)" font-size="12.6" fill="#222" text-anchor="middle">&#916;<tspan font-style="italic">H</tspan> (eV)</text><text x="615.50" y="224.60" font-size="13.4" fill="#111" text-anchor="middle">Point D<tspan font-size="9" dy="1.7">2</tspan></text><text x="598.30" y="252.30" font-size="11.6" fill="#7c4a4a">Zn<tspan font-size="8.2" dy="2.9">i</tspan></text><text x="647.10" y="260.70" font-size="11.6" fill="#4db86c">Zn<tspan font-size="8.2" dy="2.9">Pip</tspan></text><text x="557.40" y="278.70" font-size="11.6" fill="#4fd8c8">Zn<tspan font-size="8.2" dy="2.9">Cl</tspan></text><text x="587.70" y="283.00" font-size="11.6" fill="#555555">V<tspan font-size="8.2" dy="2.9">Pip</tspan></text><text x="609.50" y="306.30" font-size="11.6" fill="#a46ee6">Cl<tspan font-size="8.2" dy="2.9">Pip</tspan></text><text x="565.50" y="351.80" font-size="11.6" fill="#3d75e4">V<tspan font-size="8.2" dy="2.9">Cl</tspan></text><text x="586.70" y="346.50" font-size="11.6" fill="#c9a030">Cl<tspan font-size="8.2" dy="2.9">Zn</tspan></text><text x="639.60" y="351.80" font-size="11.6" fill="#8e962e">Cl<tspan font-size="8.2" dy="2.9">i</tspan></text><text x="627.40" y="372.40" font-size="11.6" fill="#ee3d42">V<tspan font-size="8.2" dy="2.9">Zn</tspan></text><text x="590.70" y="365.10" font-size="11.2" fill="#1a1a1a"><tspan font-style="italic">E</tspan><tspan font-size="8.2" dy="2.6">F,e</tspan><tspan dy="-2.6" dx="-0.8" font-size="10.6"> =</tspan></text><text x="585.80" y="379.50" font-size="10.5" fill="#1a1a1a">1.60 eV</text>
<text x="3.30" y="14.00" font-size="20.5" font-weight="bold" fill="#000">a</text>
<text x="175.80" y="16.00" font-size="20.5" font-weight="bold" fill="#000">b</text>
<text x="346.20" y="14.00" font-size="20.5" font-weight="bold" fill="#000">c</text>
<text x="516.80" y="16.40" font-size="20.5" font-weight="bold" fill="#000">d</text>
<text x="3.30" y="226.00" font-size="20.5" font-weight="bold" fill="#000">e</text>
<text x="178.80" y="227.80" font-size="20.5" font-weight="bold" fill="#000">f</text>
<text x="345.80" y="227.00" font-size="20.5" font-weight="bold" fill="#000">g</text>
<text x="517.60" y="227.90" font-size="20.5" font-weight="bold" fill="#000">h</text>
<defs><radialGradient id="gBr" cx="50%" cy="50%" r="55%" fx="36%" fy="32%"><stop offset="0" stop-color="#ffe6f2"/><stop offset="0.1" stop-color="#ffe6f2"/><stop offset="0.3" stop-color="#c4588e"/><stop offset="0.62" stop-color="#8c1f57"/><stop offset="1" stop-color="#5a0b34"/></radialGradient><radialGradient id="gCl" cx="50%" cy="50%" r="55%" fx="36%" fy="32%"><stop offset="0" stop-color="#f4ffe8"/><stop offset="0.1" stop-color="#f4ffe8"/><stop offset="0.3" stop-color="#a8f07a"/><stop offset="0.62" stop-color="#74dc34"/><stop offset="1" stop-color="#3f9a16"/></radialGradient><radialGradient id="gZn" cx="50%" cy="50%" r="55%" fx="42%" fy="38%"><stop offset="0" stop-color="#ffffff"/><stop offset="0.1" stop-color="#ffffff"/><stop offset="0.3" stop-color="#c6c7bc"/><stop offset="0.62" stop-color="#979a8b"/><stop offset="1" stop-color="#636559"/></radialGradient><radialGradient id="gZnL" cx="50%" cy="50%" r="55%" fx="36%" fy="32%"><stop offset="0" stop-color="#dcdcd4"/><stop offset="0.1" stop-color="#dcdcd4"/><stop offset="0.3" stop-color="#bfc0b6"/><stop offset="0.62" stop-color="#a3a597"/><stop offset="1" stop-color="#7b7d71"/></radialGradient><radialGradient id="gC" cx="50%" cy="50%" r="55%" fx="36%" fy="32%"><stop offset="0" stop-color="#f5e2c8"/><stop offset="0.1" stop-color="#f5e2c8"/><stop offset="0.3" stop-color="#b98a5a"/><stop offset="0.62" stop-color="#8a582a"/><stop offset="1" stop-color="#5a3512"/></radialGradient><radialGradient id="gN" cx="50%" cy="50%" r="55%" fx="36%" fy="32%"><stop offset="0" stop-color="#c8c8ff"/><stop offset="0.1" stop-color="#c8c8ff"/><stop offset="0.3" stop-color="#6a6aff"/><stop offset="0.62" stop-color="#2020ff"/><stop offset="1" stop-color="#0808a8"/></radialGradient><radialGradient id="gH" cx="50%" cy="50%" r="55%" fx="36%" fy="32%"><stop offset="0" stop-color="#ffffff"/><stop offset="0.1" stop-color="#ffffff"/><stop offset="0.3" stop-color="#fbf3f3"/><stop offset="0.62" stop-color="#f3e3e3"/><stop offset="1" stop-color="#c9a9a9"/></radialGradient><radialGradient id="gBlue" cx="50%" cy="50%" r="55%" fx="36%" fy="32%"><stop offset="0" stop-color="#ffffff"/><stop offset="0.1" stop-color="#ffffff"/><stop offset="0.3" stop-color="#a9d2f2"/><stop offset="0.62" stop-color="#5aa5de"/><stop offset="1" stop-color="#2c6ea8"/></radialGradient><radialGradient id="gRed" cx="50%" cy="50%" r="55%" fx="36%" fy="32%"><stop offset="0" stop-color="#ffffff"/><stop offset="0.1" stop-color="#ffffff"/><stop offset="0.3" stop-color="#e49aaa"/><stop offset="0.62" stop-color="#c4485f"/><stop offset="1" stop-color="#862036"/></radialGradient></defs><circle cx="59.50" cy="448.50" r="4.60" fill="url(#gZnL)"/><path d="M38.90 437.50L76.60 433.30L61.10 461.00Z" fill="#a9aea9" fill-opacity="0.82" stroke="#5f645f" stroke-width="0.6" stroke-linejoin="round"/><circle cx="101.70" cy="498.50" r="4.60" fill="url(#gZnL)"/><path d="M85.50 492.10L123.60 495.60L101.70 520.50Z" fill="#a3a8a3" fill-opacity="0.85" stroke="#5f645f" stroke-width="0.6" stroke-linejoin="round"/><path d="M103.00 485.10L81.60 510.50L119.70 514.00Z" fill="#afb4af" fill-opacity="0.78" stroke="#5f645f" stroke-width="0.6" stroke-linejoin="round"/><circle cx="62.00" cy="555.50" r="4.60" fill="url(#gZnL)"/><path d="M61.00 542.80L44.10 570.60L82.40 568.20Z" fill="#a9aea9" fill-opacity="0.82" stroke="#5f645f" stroke-width="0.6" stroke-linejoin="round"/><circle cx="142.70" cy="448.50" r="4.60" fill="url(#gZnL)"/><path d="M122.10 437.50L159.80 433.30L144.30 461.00Z" fill="#a9aea9" fill-opacity="0.82" stroke="#5f645f" stroke-width="0.6" stroke-linejoin="round"/><circle cx="184.90" cy="498.50" r="4.60" fill="url(#gZnL)"/><path d="M168.70 492.10L206.80 495.60L184.90 520.50Z" fill="#a3a8a3" fill-opacity="0.85" stroke="#5f645f" stroke-width="0.6" stroke-linejoin="round"/><path d="M186.20 485.10L164.80 510.50L202.90 514.00Z" fill="#afb4af" fill-opacity="0.78" stroke="#5f645f" stroke-width="0.6" stroke-linejoin="round"/><circle cx="145.20" cy="555.50" r="4.60" fill="url(#gZnL)"/><path d="M144.20 542.80L127.30 570.60L165.60 568.20Z" fill="#a9aea9" fill-opacity="0.82" stroke="#5f645f" stroke-width="0.6" stroke-linejoin="round"/><path d="M81.10 441.10L88.40 442.60" stroke="#e6cccc" stroke-width="1.1"/><path d="M85.50 446.60L88.80 449.90" stroke="#e6cccc" stroke-width="1.1"/><path d="M97.90 449.50L96.40 453.20" stroke="#e6cccc" stroke-width="1.1"/><path d="M91.00 461.60L97.50 459.40" stroke="#e6cccc" stroke-width="1.1"/><path d="M94.60 466.00L97.50 459.40" stroke="#e6cccc" stroke-width="1.1"/><path d="M111.00 461.60L110.70 458.70" stroke="#e6cccc" stroke-width="1.1"/><path d="M115.00 461.90L110.70 458.70" stroke="#e6cccc" stroke-width="1.1"/><path d="M117.60 465.20L110.70 458.70" stroke="#e6cccc" stroke-width="1.1"/><path d="M123.80 435.30L116.50 442.60" stroke="#e6cccc" stroke-width="1.1"/><path d="M124.50 444.40L116.50 442.60" stroke="#e6cccc" stroke-width="1.1"/><path d="M119.40 439.70L116.50 442.60" stroke="#e6cccc" stroke-width="1.1"/><path d="M107.70 459.40L110.70 458.70" stroke="#e6cccc" stroke-width="1.1"/><path d="M83.50 449.00L88.80 449.90" stroke="#e6cccc" stroke-width="1.1"/><circle cx="81.10" cy="441.10" r="1.8" fill="#f8eded" stroke="#c29696" stroke-width="0.55"/><circle cx="85.50" cy="446.60" r="1.8" fill="#f8eded" stroke="#c29696" stroke-width="0.55"/><circle cx="97.90" cy="449.50" r="1.8" fill="#f8eded" stroke="#c29696" stroke-width="0.55"/><circle cx="91.00" cy="461.60" r="1.8" fill="#f8eded" stroke="#c29696" stroke-width="0.55"/><circle cx="94.60" cy="466.00" r="1.8" fill="#f8eded" stroke="#c29696" stroke-width="0.55"/><circle cx="111.00" cy="461.60" r="1.8" fill="#f8eded" stroke="#c29696" stroke-width="0.55"/><circle cx="115.00" cy="461.90" r="1.8" fill="#f8eded" stroke="#c29696" stroke-width="0.55"/><circle cx="117.60" cy="465.20" r="1.8" fill="#f8eded" stroke="#c29696" stroke-width="0.55"/><circle cx="123.80" cy="435.30" r="1.8" fill="#f8eded" stroke="#c29696" stroke-width="0.55"/><circle cx="124.50" cy="444.40" r="1.8" fill="#f8eded" stroke="#c29696" stroke-width="0.55"/><circle cx="119.40" cy="439.70" r="1.8" fill="#f8eded" stroke="#c29696" stroke-width="0.55"/><circle cx="107.70" cy="459.40" r="1.8" fill="#f8eded" stroke="#c29696" stroke-width="0.55"/><circle cx="83.50" cy="449.00" r="1.8" fill="#f8eded" stroke="#c29696" stroke-width="0.55"/><path d="M88.40 442.60L92.40 447.90" stroke="#2323ff" stroke-width="1.9"/><path d="M92.40 447.90L96.40 453.20" stroke="#8b5a2c" stroke-width="1.9"/><path d="M96.40 453.20L102.80 454.10" stroke="#8b5a2c" stroke-width="1.9"/><path d="M102.80 454.10L109.20 455.00" stroke="#8b5a2c" stroke-width="1.9"/><path d="M109.20 455.00L112.85 448.80" stroke="#8b5a2c" stroke-width="1.9"/><path d="M112.85 448.80L116.50 442.60" stroke="#2323ff" stroke-width="1.9"/><path d="M88.80 449.90L93.15 454.65" stroke="#2323ff" stroke-width="1.9"/><path d="M93.15 454.65L97.50 459.40" stroke="#8b5a2c" stroke-width="1.9"/><path d="M97.50 459.40L104.10 459.05" stroke="#8b5a2c" stroke-width="1.9"/><path d="M104.10 459.05L110.70 458.70" stroke="#8b5a2c" stroke-width="1.9"/><path d="M110.70 458.70L112.85 452.85" stroke="#8b5a2c" stroke-width="1.9"/><path d="M112.85 452.85L115.00 447.00" stroke="#2323ff" stroke-width="1.9"/><circle cx="96.40" cy="453.20" r="2.60" fill="url(#gC)"/><circle cx="97.50" cy="459.40" r="2.60" fill="url(#gC)"/><circle cx="109.20" cy="455.00" r="2.60" fill="url(#gC)"/><circle cx="110.70" cy="458.70" r="2.60" fill="url(#gC)"/><circle cx="88.40" cy="442.60" r="2.60" fill="url(#gN)"/><circle cx="88.80" cy="449.90" r="2.60" fill="url(#gN)"/><circle cx="116.50" cy="442.60" r="2.60" fill="url(#gN)"/><circle cx="115.00" cy="447.00" r="2.60" fill="url(#gN)"/><path d="M80.60 562.90L87.90 561.40" stroke="#e6cccc" stroke-width="1.1"/><path d="M85.00 557.40L88.30 554.10" stroke="#e6cccc" stroke-width="1.1"/><path d="M97.40 554.50L95.90 550.80" stroke="#e6cccc" stroke-width="1.1"/><path d="M90.50 542.40L97.00 544.60" stroke="#e6cccc" stroke-width="1.1"/><path d="M94.10 538.00L97.00 544.60" stroke="#e6cccc" stroke-width="1.1"/><path d="M110.50 542.40L110.20 545.30" stroke="#e6cccc" stroke-width="1.1"/><path d="M114.50 542.10L110.20 545.30" stroke="#e6cccc" stroke-width="1.1"/><path d="M117.10 538.80L110.20 545.30" stroke="#e6cccc" stroke-width="1.1"/><path d="M123.30 568.70L116.00 561.40" stroke="#e6cccc" stroke-width="1.1"/><path d="M124.00 559.60L116.00 561.40" stroke="#e6cccc" stroke-width="1.1"/><path d="M118.90 564.30L116.00 561.40" stroke="#e6cccc" stroke-width="1.1"/><path d="M107.20 544.60L110.20 545.30" stroke="#e6cccc" stroke-width="1.1"/><path d="M83.00 555.00L88.30 554.10" stroke="#e6cccc" stroke-width="1.1"/><circle cx="80.60" cy="562.90" r="1.8" fill="#f8eded" stroke="#c29696" stroke-width="0.55"/><circle cx="85.00" cy="557.40" r="1.8" fill="#f8eded" stroke="#c29696" stroke-width="0.55"/><circle cx="97.40" cy="554.50" r="1.8" fill="#f8eded" stroke="#c29696" stroke-width="0.55"/><circle cx="90.50" cy="542.40" r="1.8" fill="#f8eded" stroke="#c29696" stroke-width="0.55"/><circle cx="94.10" cy="538.00" r="1.8" fill="#f8eded" stroke="#c29696" stroke-width="0.55"/><circle cx="110.50" cy="542.40" r="1.8" fill="#f8eded" stroke="#c29696" stroke-width="0.55"/><circle cx="114.50" cy="542.10" r="1.8" fill="#f8eded" stroke="#c29696" stroke-width="0.55"/><circle cx="117.10" cy="538.80" r="1.8" fill="#f8eded" stroke="#c29696" stroke-width="0.55"/><circle cx="123.30" cy="568.70" r="1.8" fill="#f8eded" stroke="#c29696" stroke-width="0.55"/><circle cx="124.00" cy="559.60" r="1.8" fill="#f8eded" stroke="#c29696" stroke-width="0.55"/><circle cx="118.90" cy="564.30" r="1.8" fill="#f8eded" stroke="#c29696" stroke-width="0.55"/><circle cx="107.20" cy="544.60" r="1.8" fill="#f8eded" stroke="#c29696" stroke-width="0.55"/><circle cx="83.00" cy="555.00" r="1.8" fill="#f8eded" stroke="#c29696" stroke-width="0.55"/><path d="M87.90 561.40L91.90 556.10" stroke="#2323ff" stroke-width="1.9"/><path d="M91.90 556.10L95.90 550.80" stroke="#8b5a2c" stroke-width="1.9"/><path d="M95.90 550.80L102.30 549.90" stroke="#8b5a2c" stroke-width="1.9"/><path d="M102.30 549.90L108.70 549.00" stroke="#8b5a2c" stroke-width="1.9"/><path d="M108.70 549.00L112.35 555.20" stroke="#8b5a2c" stroke-width="1.9"/><path d="M112.35 555.20L116.00 561.40" stroke="#2323ff" stroke-width="1.9"/><path d="M88.30 554.10L92.65 549.35" stroke="#2323ff" stroke-width="1.9"/><path d="M92.65 549.35L97.00 544.60" stroke="#8b5a2c" stroke-width="1.9"/><path d="M97.00 544.60L103.60 544.95" stroke="#8b5a2c" stroke-width="1.9"/><path d="M103.60 544.95L110.20 545.30" stroke="#8b5a2c" stroke-width="1.9"/><path d="M110.20 545.30L112.35 551.15" stroke="#8b5a2c" stroke-width="1.9"/><path d="M112.35 551.15L114.50 557.00" stroke="#2323ff" stroke-width="1.9"/><circle cx="95.90" cy="550.80" r="2.60" fill="url(#gC)"/><circle cx="97.00" cy="544.60" r="2.60" fill="url(#gC)"/><circle cx="108.70" cy="549.00" r="2.60" fill="url(#gC)"/><circle cx="110.20" cy="545.30" r="2.60" fill="url(#gC)"/><circle cx="87.90" cy="561.40" r="2.60" fill="url(#gN)"/><circle cx="88.30" cy="554.10" r="2.60" fill="url(#gN)"/><circle cx="116.00" cy="561.40" r="2.60" fill="url(#gN)"/><circle cx="114.50" cy="557.00" r="2.60" fill="url(#gN)"/><path d="M52.20 479.10L56.20 489.00" stroke="#e6cccc" stroke-width="1.1"/><path d="M50.40 485.70L56.20 489.00" stroke="#e6cccc" stroke-width="1.1"/><path d="M76.00 482.70L69.40 489.00" stroke="#e6cccc" stroke-width="1.1"/><path d="M75.20 486.00L69.40 489.00" stroke="#e6cccc" stroke-width="1.1"/><path d="M57.30 498.10L55.90 494.40" stroke="#e6cccc" stroke-width="1.1"/><path d="M46.40 518.10L55.50 517.80" stroke="#e6cccc" stroke-width="1.1"/><path d="M49.30 524.40L55.50 517.80" stroke="#e6cccc" stroke-width="1.1"/><path d="M55.50 521.40L55.50 517.80" stroke="#e6cccc" stroke-width="1.1"/><path d="M71.60 520.70L67.90 515.20" stroke="#e6cccc" stroke-width="1.1"/><path d="M73.80 524.70L67.90 515.20" stroke="#e6cccc" stroke-width="1.1"/><path d="M40.20 506.10L49.00 505.00" stroke="#e6cccc" stroke-width="1.1"/><path d="M45.30 502.10L47.50 498.40" stroke="#e6cccc" stroke-width="1.1"/><path d="M83.30 502.50L75.20 501.40" stroke="#e6cccc" stroke-width="1.1"/><path d="M83.60 504.60L75.20 501.40" stroke="#e6cccc" stroke-width="1.1"/><path d="M77.40 505.40L73.80 507.20" stroke="#e6cccc" stroke-width="1.1"/><path d="M53.70 515.20L55.50 517.80" stroke="#e6cccc" stroke-width="1.1"/><path d="M66.10 507.90L66.50 511.60" stroke="#e6cccc" stroke-width="1.1"/><path d="M65.00 497.50L68.70 493.30" stroke="#e6cccc" stroke-width="1.1"/><circle cx="52.20" cy="479.10" r="1.8" fill="#f8eded" stroke="#c29696" stroke-width="0.55"/><circle cx="50.40" cy="485.70" r="1.8" fill="#f8eded" stroke="#c29696" stroke-width="0.55"/><circle cx="76.00" cy="482.70" r="1.8" fill="#f8eded" stroke="#c29696" stroke-width="0.55"/><circle cx="75.20" cy="486.00" r="1.8" fill="#f8eded" stroke="#c29696" stroke-width="0.55"/><circle cx="57.30" cy="498.10" r="1.8" fill="#f8eded" stroke="#c29696" stroke-width="0.55"/><circle cx="46.40" cy="518.10" r="1.8" fill="#f8eded" stroke="#c29696" stroke-width="0.55"/><circle cx="49.30" cy="524.40" r="1.8" fill="#f8eded" stroke="#c29696" stroke-width="0.55"/><circle cx="55.50" cy="521.40" r="1.8" fill="#f8eded" stroke="#c29696" stroke-width="0.55"/><circle cx="71.60" cy="520.70" r="1.8" fill="#f8eded" stroke="#c29696" stroke-width="0.55"/><circle cx="73.80" cy="524.70" r="1.8" fill="#f8eded" stroke="#c29696" stroke-width="0.55"/><circle cx="40.20" cy="506.10" r="1.8" fill="#f8eded" stroke="#c29696" stroke-width="0.55"/><circle cx="45.30" cy="502.10" r="1.8" fill="#f8eded" stroke="#c29696" stroke-width="0.55"/><circle cx="83.30" cy="502.50" r="1.8" fill="#f8eded" stroke="#c29696" stroke-width="0.55"/><circle cx="83.60" cy="504.60" r="1.8" fill="#f8eded" stroke="#c29696" stroke-width="0.55"/><circle cx="77.40" cy="505.40" r="1.8" fill="#f8eded" stroke="#c29696" stroke-width="0.55"/><circle cx="53.70" cy="515.20" r="1.8" fill="#f8eded" stroke="#c29696" stroke-width="0.55"/><circle cx="66.10" cy="507.90" r="1.8" fill="#f8eded" stroke="#c29696" stroke-width="0.55"/><circle cx="65.00" cy="497.50" r="1.8" fill="#f8eded" stroke="#c29696" stroke-width="0.55"/><path d="M47.50 498.40L51.85 493.70" stroke="#2323ff" stroke-width="1.9"/><path d="M51.85 493.70L56.20 489.00" stroke="#8b5a2c" stroke-width="1.9"/><path d="M56.20 489.00L62.80 489.00" stroke="#8b5a2c" stroke-width="1.9"/><path d="M62.80 489.00L69.40 489.00" stroke="#8b5a2c" stroke-width="1.9"/><path d="M69.40 489.00L72.30 495.20" stroke="#8b5a2c" stroke-width="1.9"/><path d="M72.30 495.20L75.20 501.40" stroke="#2323ff" stroke-width="1.9"/><path d="M75.20 501.40L70.85 506.50" stroke="#2323ff" stroke-width="1.9"/><path d="M70.85 506.50L66.50 511.60" stroke="#8b5a2c" stroke-width="1.9"/><path d="M66.50 511.60L59.90 511.60" stroke="#8b5a2c" stroke-width="1.9"/><path d="M59.90 511.60L53.30 511.60" stroke="#8b5a2c" stroke-width="1.9"/><path d="M53.30 511.60L50.40 505.00" stroke="#8b5a2c" stroke-width="1.9"/><path d="M50.40 505.00L47.50 498.40" stroke="#2323ff" stroke-width="1.9"/><path d="M49.00 505.00L52.45 499.70" stroke="#2323ff" stroke-width="1.9"/><path d="M52.45 499.70L55.90 494.40" stroke="#8b5a2c" stroke-width="1.9"/><path d="M55.90 494.40L62.30 493.85" stroke="#8b5a2c" stroke-width="1.9"/><path d="M62.30 493.85L68.70 493.30" stroke="#8b5a2c" stroke-width="1.9"/><path d="M68.70 493.30L71.25 500.25" stroke="#8b5a2c" stroke-width="1.9"/><path d="M71.25 500.25L73.80 507.20" stroke="#2323ff" stroke-width="1.9"/><path d="M73.80 507.20L70.85 511.20" stroke="#2323ff" stroke-width="1.9"/><path d="M70.85 511.20L67.90 515.20" stroke="#8b5a2c" stroke-width="1.9"/><path d="M67.90 515.20L61.70 516.50" stroke="#8b5a2c" stroke-width="1.9"/><path d="M61.70 516.50L55.50 517.80" stroke="#8b5a2c" stroke-width="1.9"/><path d="M55.50 517.80L52.25 511.40" stroke="#8b5a2c" stroke-width="1.9"/><path d="M52.25 511.40L49.00 505.00" stroke="#2323ff" stroke-width="1.9"/><circle cx="56.20" cy="489.00" r="2.60" fill="url(#gC)"/><circle cx="69.40" cy="489.00" r="2.60" fill="url(#gC)"/><circle cx="55.90" cy="494.40" r="2.60" fill="url(#gC)"/><circle cx="68.70" cy="493.30" r="2.60" fill="url(#gC)"/><circle cx="53.30" cy="511.60" r="2.60" fill="url(#gC)"/><circle cx="66.50" cy="511.60" r="2.60" fill="url(#gC)"/><circle cx="55.50" cy="517.80" r="2.60" fill="url(#gC)"/><circle cx="67.90" cy="515.20" r="2.60" fill="url(#gC)"/><circle cx="47.50" cy="498.40" r="2.60" fill="url(#gN)"/><circle cx="49.00" cy="505.00" r="2.60" fill="url(#gN)"/><circle cx="75.20" cy="501.40" r="2.60" fill="url(#gN)"/><circle cx="73.80" cy="507.20" r="2.60" fill="url(#gN)"/><path d="M164.30 441.10L171.60 442.60" stroke="#e6cccc" stroke-width="1.1"/><path d="M168.70 446.60L172.00 449.90" stroke="#e6cccc" stroke-width="1.1"/><path d="M181.10 449.50L179.60 453.20" stroke="#e6cccc" stroke-width="1.1"/><path d="M174.20 461.60L180.70 459.40" stroke="#e6cccc" stroke-width="1.1"/><path d="M177.80 466.00L180.70 459.40" stroke="#e6cccc" stroke-width="1.1"/><path d="M194.20 461.60L193.90 458.70" stroke="#e6cccc" stroke-width="1.1"/><path d="M198.20 461.90L193.90 458.70" stroke="#e6cccc" stroke-width="1.1"/><path d="M200.80 465.20L193.90 458.70" stroke="#e6cccc" stroke-width="1.1"/><path d="M207.00 435.30L199.70 442.60" stroke="#e6cccc" stroke-width="1.1"/><path d="M207.70 444.40L199.70 442.60" stroke="#e6cccc" stroke-width="1.1"/><path d="M202.60 439.70L199.70 442.60" stroke="#e6cccc" stroke-width="1.1"/><path d="M190.90 459.40L193.90 458.70" stroke="#e6cccc" stroke-width="1.1"/><path d="M166.70 449.00L172.00 449.90" stroke="#e6cccc" stroke-width="1.1"/><circle cx="164.30" cy="441.10" r="1.8" fill="#f8eded" stroke="#c29696" stroke-width="0.55"/><circle cx="168.70" cy="446.60" r="1.8" fill="#f8eded" stroke="#c29696" stroke-width="0.55"/><circle cx="181.10" cy="449.50" r="1.8" fill="#f8eded" stroke="#c29696" stroke-width="0.55"/><circle cx="174.20" cy="461.60" r="1.8" fill="#f8eded" stroke="#c29696" stroke-width="0.55"/><circle cx="177.80" cy="466.00" r="1.8" fill="#f8eded" stroke="#c29696" stroke-width="0.55"/><circle cx="194.20" cy="461.60" r="1.8" fill="#f8eded" stroke="#c29696" stroke-width="0.55"/><circle cx="198.20" cy="461.90" r="1.8" fill="#f8eded" stroke="#c29696" stroke-width="0.55"/><circle cx="200.80" cy="465.20" r="1.8" fill="#f8eded" stroke="#c29696" stroke-width="0.55"/><circle cx="207.00" cy="435.30" r="1.8" fill="#f8eded" stroke="#c29696" stroke-width="0.55"/><circle cx="207.70" cy="444.40" r="1.8" fill="#f8eded" stroke="#c29696" stroke-width="0.55"/><circle cx="202.60" cy="439.70" r="1.8" fill="#f8eded" stroke="#c29696" stroke-width="0.55"/><circle cx="190.90" cy="459.40" r="1.8" fill="#f8eded" stroke="#c29696" stroke-width="0.55"/><circle cx="166.70" cy="449.00" r="1.8" fill="#f8eded" stroke="#c29696" stroke-width="0.55"/><path d="M171.60 442.60L175.60 447.90" stroke="#2323ff" stroke-width="1.9"/><path d="M175.60 447.90L179.60 453.20" stroke="#8b5a2c" stroke-width="1.9"/><path d="M179.60 453.20L186.00 454.10" stroke="#8b5a2c" stroke-width="1.9"/><path d="M186.00 454.10L192.40 455.00" stroke="#8b5a2c" stroke-width="1.9"/><path d="M192.40 455.00L196.05 448.80" stroke="#8b5a2c" stroke-width="1.9"/><path d="M196.05 448.80L199.70 442.60" stroke="#2323ff" stroke-width="1.9"/><path d="M172.00 449.90L176.35 454.65" stroke="#2323ff" stroke-width="1.9"/><path d="M176.35 454.65L180.70 459.40" stroke="#8b5a2c" stroke-width="1.9"/><path d="M180.70 459.40L187.30 459.05" stroke="#8b5a2c" stroke-width="1.9"/><path d="M187.30 459.05L193.90 458.70" stroke="#8b5a2c" stroke-width="1.9"/><path d="M193.90 458.70L196.05 452.85" stroke="#8b5a2c" stroke-width="1.9"/><path d="M196.05 452.85L198.20 447.00" stroke="#2323ff" stroke-width="1.9"/><circle cx="179.60" cy="453.20" r="2.60" fill="url(#gC)"/><circle cx="180.70" cy="459.40" r="2.60" fill="url(#gC)"/><circle cx="192.40" cy="455.00" r="2.60" fill="url(#gC)"/><circle cx="193.90" cy="458.70" r="2.60" fill="url(#gC)"/><circle cx="171.60" cy="442.60" r="2.60" fill="url(#gN)"/><circle cx="172.00" cy="449.90" r="2.60" fill="url(#gN)"/><circle cx="199.70" cy="442.60" r="2.60" fill="url(#gN)"/><circle cx="198.20" cy="447.00" r="2.60" fill="url(#gN)"/><path d="M163.80 562.90L171.10 561.40" stroke="#e6cccc" stroke-width="1.1"/><path d="M168.20 557.40L171.50 554.10" stroke="#e6cccc" stroke-width="1.1"/><path d="M180.60 554.50L179.10 550.80" stroke="#e6cccc" stroke-width="1.1"/><path d="M173.70 542.40L180.20 544.60" stroke="#e6cccc" stroke-width="1.1"/><path d="M177.30 538.00L180.20 544.60" stroke="#e6cccc" stroke-width="1.1"/><path d="M193.70 542.40L193.40 545.30" stroke="#e6cccc" stroke-width="1.1"/><path d="M197.70 542.10L193.40 545.30" stroke="#e6cccc" stroke-width="1.1"/><path d="M200.30 538.80L193.40 545.30" stroke="#e6cccc" stroke-width="1.1"/><path d="M206.50 568.70L199.20 561.40" stroke="#e6cccc" stroke-width="1.1"/><path d="M207.20 559.60L199.20 561.40" stroke="#e6cccc" stroke-width="1.1"/><path d="M202.10 564.30L199.20 561.40" stroke="#e6cccc" stroke-width="1.1"/><path d="M190.40 544.60L193.40 545.30" stroke="#e6cccc" stroke-width="1.1"/><path d="M166.20 555.00L171.50 554.10" stroke="#e6cccc" stroke-width="1.1"/><circle cx="163.80" cy="562.90" r="1.8" fill="#f8eded" stroke="#c29696" stroke-width="0.55"/><circle cx="168.20" cy="557.40" r="1.8" fill="#f8eded" stroke="#c29696" stroke-width="0.55"/><circle cx="180.60" cy="554.50" r="1.8" fill="#f8eded" stroke="#c29696" stroke-width="0.55"/><circle cx="173.70" cy="542.40" r="1.8" fill="#f8eded" stroke="#c29696" stroke-width="0.55"/><circle cx="177.30" cy="538.00" r="1.8" fill="#f8eded" stroke="#c29696" stroke-width="0.55"/><circle cx="193.70" cy="542.40" r="1.8" fill="#f8eded" stroke="#c29696" stroke-width="0.55"/><circle cx="197.70" cy="542.10" r="1.8" fill="#f8eded" stroke="#c29696" stroke-width="0.55"/><circle cx="200.30" cy="538.80" r="1.8" fill="#f8eded" stroke="#c29696" stroke-width="0.55"/><circle cx="206.50" cy="568.70" r="1.8" fill="#f8eded" stroke="#c29696" stroke-width="0.55"/><circle cx="207.20" cy="559.60" r="1.8" fill="#f8eded" stroke="#c29696" stroke-width="0.55"/><circle cx="202.10" cy="564.30" r="1.8" fill="#f8eded" stroke="#c29696" stroke-width="0.55"/><circle cx="190.40" cy="544.60" r="1.8" fill="#f8eded" stroke="#c29696" stroke-width="0.55"/><circle cx="166.20" cy="555.00" r="1.8" fill="#f8eded" stroke="#c29696" stroke-width="0.55"/><path d="M171.10 561.40L175.10 556.10" stroke="#2323ff" stroke-width="1.9"/><path d="M175.10 556.10L179.10 550.80" stroke="#8b5a2c" stroke-width="1.9"/><path d="M179.10 550.80L185.50 549.90" stroke="#8b5a2c" stroke-width="1.9"/><path d="M185.50 549.90L191.90 549.00" stroke="#8b5a2c" stroke-width="1.9"/><path d="M191.90 549.00L195.55 555.20" stroke="#8b5a2c" stroke-width="1.9"/><path d="M195.55 555.20L199.20 561.40" stroke="#2323ff" stroke-width="1.9"/><path d="M171.50 554.10L175.85 549.35" stroke="#2323ff" stroke-width="1.9"/><path d="M175.85 549.35L180.20 544.60" stroke="#8b5a2c" stroke-width="1.9"/><path d="M180.20 544.60L186.80 544.95" stroke="#8b5a2c" stroke-width="1.9"/><path d="M186.80 544.95L193.40 545.30" stroke="#8b5a2c" stroke-width="1.9"/><path d="M193.40 545.30L195.55 551.15" stroke="#8b5a2c" stroke-width="1.9"/><path d="M195.55 551.15L197.70 557.00" stroke="#2323ff" stroke-width="1.9"/><circle cx="179.10" cy="550.80" r="2.60" fill="url(#gC)"/><circle cx="180.20" cy="544.60" r="2.60" fill="url(#gC)"/><circle cx="191.90" cy="549.00" r="2.60" fill="url(#gC)"/><circle cx="193.40" cy="545.30" r="2.60" fill="url(#gC)"/><circle cx="171.10" cy="561.40" r="2.60" fill="url(#gN)"/><circle cx="171.50" cy="554.10" r="2.60" fill="url(#gN)"/><circle cx="199.20" cy="561.40" r="2.60" fill="url(#gN)"/><circle cx="197.70" cy="557.00" r="2.60" fill="url(#gN)"/><path d="M135.40 479.10L139.40 489.00" stroke="#e6cccc" stroke-width="1.1"/><path d="M133.60 485.70L139.40 489.00" stroke="#e6cccc" stroke-width="1.1"/><path d="M159.20 482.70L152.60 489.00" stroke="#e6cccc" stroke-width="1.1"/><path d="M158.40 486.00L152.60 489.00" stroke="#e6cccc" stroke-width="1.1"/><path d="M140.50 498.10L139.10 494.40" stroke="#e6cccc" stroke-width="1.1"/><path d="M129.60 518.10L138.70 517.80" stroke="#e6cccc" stroke-width="1.1"/><path d="M132.50 524.40L138.70 517.80" stroke="#e6cccc" stroke-width="1.1"/><path d="M138.70 521.40L138.70 517.80" stroke="#e6cccc" stroke-width="1.1"/><path d="M154.80 520.70L151.10 515.20" stroke="#e6cccc" stroke-width="1.1"/><path d="M157.00 524.70L151.10 515.20" stroke="#e6cccc" stroke-width="1.1"/><path d="M123.40 506.10L132.20 505.00" stroke="#e6cccc" stroke-width="1.1"/><path d="M128.50 502.10L130.70 498.40" stroke="#e6cccc" stroke-width="1.1"/><path d="M166.50 502.50L158.40 501.40" stroke="#e6cccc" stroke-width="1.1"/><path d="M166.80 504.60L158.40 501.40" stroke="#e6cccc" stroke-width="1.1"/><path d="M160.60 505.40L157.00 507.20" stroke="#e6cccc" stroke-width="1.1"/><path d="M136.90 515.20L138.70 517.80" stroke="#e6cccc" stroke-width="1.1"/><path d="M149.30 507.90L149.70 511.60" stroke="#e6cccc" stroke-width="1.1"/><path d="M148.20 497.50L151.90 493.30" stroke="#e6cccc" stroke-width="1.1"/><circle cx="135.40" cy="479.10" r="1.8" fill="#f8eded" stroke="#c29696" stroke-width="0.55"/><circle cx="133.60" cy="485.70" r="1.8" fill="#f8eded" stroke="#c29696" stroke-width="0.55"/><circle cx="159.20" cy="482.70" r="1.8" fill="#f8eded" stroke="#c29696" stroke-width="0.55"/><circle cx="158.40" cy="486.00" r="1.8" fill="#f8eded" stroke="#c29696" stroke-width="0.55"/><circle cx="140.50" cy="498.10" r="1.8" fill="#f8eded" stroke="#c29696" stroke-width="0.55"/><circle cx="129.60" cy="518.10" r="1.8" fill="#f8eded" stroke="#c29696" stroke-width="0.55"/><circle cx="132.50" cy="524.40" r="1.8" fill="#f8eded" stroke="#c29696" stroke-width="0.55"/><circle cx="138.70" cy="521.40" r="1.8" fill="#f8eded" stroke="#c29696" stroke-width="0.55"/><circle cx="154.80" cy="520.70" r="1.8" fill="#f8eded" stroke="#c29696" stroke-width="0.55"/><circle cx="157.00" cy="524.70" r="1.8" fill="#f8eded" stroke="#c29696" stroke-width="0.55"/><circle cx="123.40" cy="506.10" r="1.8" fill="#f8eded" stroke="#c29696" stroke-width="0.55"/><circle cx="128.50" cy="502.10" r="1.8" fill="#f8eded" stroke="#c29696" stroke-width="0.55"/><circle cx="166.50" cy="502.50" r="1.8" fill="#f8eded" stroke="#c29696" stroke-width="0.55"/><circle cx="166.80" cy="504.60" r="1.8" fill="#f8eded" stroke="#c29696" stroke-width="0.55"/><circle cx="160.60" cy="505.40" r="1.8" fill="#f8eded" stroke="#c29696" stroke-width="0.55"/><circle cx="136.90" cy="515.20" r="1.8" fill="#f8eded" stroke="#c29696" stroke-width="0.55"/><circle cx="149.30" cy="507.90" r="1.8" fill="#f8eded" stroke="#c29696" stroke-width="0.55"/><circle cx="148.20" cy="497.50" r="1.8" fill="#f8eded" stroke="#c29696" stroke-width="0.55"/><path d="M130.70 498.40L135.05 493.70" stroke="#2323ff" stroke-width="1.9"/><path d="M135.05 493.70L139.40 489.00" stroke="#8b5a2c" stroke-width="1.9"/><path d="M139.40 489.00L146.00 489.00" stroke="#8b5a2c" stroke-width="1.9"/><path d="M146.00 489.00L152.60 489.00" stroke="#8b5a2c" stroke-width="1.9"/><path d="M152.60 489.00L155.50 495.20" stroke="#8b5a2c" stroke-width="1.9"/><path d="M155.50 495.20L158.40 501.40" stroke="#2323ff" stroke-width="1.9"/><path d="M158.40 501.40L154.05 506.50" stroke="#2323ff" stroke-width="1.9"/><path d="M154.05 506.50L149.70 511.60" stroke="#8b5a2c" stroke-width="1.9"/><path d="M149.70 511.60L143.10 511.60" stroke="#8b5a2c" stroke-width="1.9"/><path d="M143.10 511.60L136.50 511.60" stroke="#8b5a2c" stroke-width="1.9"/><path d="M136.50 511.60L133.60 505.00" stroke="#8b5a2c" stroke-width="1.9"/><path d="M133.60 505.00L130.70 498.40" stroke="#2323ff" stroke-width="1.9"/><path d="M132.20 505.00L135.65 499.70" stroke="#2323ff" stroke-width="1.9"/><path d="M135.65 499.70L139.10 494.40" stroke="#8b5a2c" stroke-width="1.9"/><path d="M139.10 494.40L145.50 493.85" stroke="#8b5a2c" stroke-width="1.9"/><path d="M145.50 493.85L151.90 493.30" stroke="#8b5a2c" stroke-width="1.9"/><path d="M151.90 493.30L154.45 500.25" stroke="#8b5a2c" stroke-width="1.9"/><path d="M154.45 500.25L157.00 507.20" stroke="#2323ff" stroke-width="1.9"/><path d="M157.00 507.20L154.05 511.20" stroke="#2323ff" stroke-width="1.9"/><path d="M154.05 511.20L151.10 515.20" stroke="#8b5a2c" stroke-width="1.9"/><path d="M151.10 515.20L144.90 516.50" stroke="#8b5a2c" stroke-width="1.9"/><path d="M144.90 516.50L138.70 517.80" stroke="#8b5a2c" stroke-width="1.9"/><path d="M138.70 517.80L135.45 511.40" stroke="#8b5a2c" stroke-width="1.9"/><path d="M135.45 511.40L132.20 505.00" stroke="#2323ff" stroke-width="1.9"/><circle cx="139.40" cy="489.00" r="2.60" fill="url(#gC)"/><circle cx="152.60" cy="489.00" r="2.60" fill="url(#gC)"/><circle cx="139.10" cy="494.40" r="2.60" fill="url(#gC)"/><circle cx="151.90" cy="493.30" r="2.60" fill="url(#gC)"/><circle cx="136.50" cy="511.60" r="2.60" fill="url(#gC)"/><circle cx="149.70" cy="511.60" r="2.60" fill="url(#gC)"/><circle cx="138.70" cy="517.80" r="2.60" fill="url(#gC)"/><circle cx="151.10" cy="515.20" r="2.60" fill="url(#gC)"/><circle cx="130.70" cy="498.40" r="2.60" fill="url(#gN)"/><circle cx="132.20" cy="505.00" r="2.60" fill="url(#gN)"/><circle cx="158.40" cy="501.40" r="2.60" fill="url(#gN)"/><circle cx="157.00" cy="507.20" r="2.60" fill="url(#gN)"/><circle cx="38.90" cy="437.50" r="4.60" fill="url(#gBr)"/><circle cx="76.60" cy="433.30" r="4.60" fill="url(#gBr)"/><circle cx="61.10" cy="461.00" r="4.60" fill="url(#gBr)"/><circle cx="43.90" cy="456.10" r="4.60" fill="url(#gBr)"/><circle cx="82.70" cy="453.30" r="4.60" fill="url(#gBr)"/><circle cx="103.00" cy="485.10" r="4.60" fill="url(#gBr)"/><circle cx="81.60" cy="510.50" r="4.60" fill="url(#gBr)"/><circle cx="119.70" cy="514.00" r="4.60" fill="url(#gBr)"/><circle cx="85.50" cy="492.10" r="4.60" fill="url(#gBr)"/><circle cx="123.60" cy="495.60" r="4.60" fill="url(#gBr)"/><circle cx="101.70" cy="520.50" r="4.60" fill="url(#gBr)"/><circle cx="61.00" cy="542.80" r="4.60" fill="url(#gBr)"/><circle cx="44.10" cy="570.60" r="4.60" fill="url(#gBr)"/><circle cx="82.40" cy="568.20" r="4.60" fill="url(#gBr)"/><circle cx="77.00" cy="547.80" r="4.60" fill="url(#gBr)"/><circle cx="121.90" cy="550.40" r="4.60" fill="url(#gBr)"/><circle cx="122.10" cy="437.50" r="4.60" fill="url(#gBr)"/><circle cx="159.80" cy="433.30" r="4.60" fill="url(#gBr)"/><circle cx="144.30" cy="461.00" r="4.60" fill="url(#gBr)"/><circle cx="127.10" cy="456.10" r="4.60" fill="url(#gBr)"/><circle cx="165.90" cy="453.30" r="4.60" fill="url(#gBr)"/><circle cx="186.20" cy="485.10" r="4.60" fill="url(#gBr)"/><circle cx="164.80" cy="510.50" r="4.60" fill="url(#gBr)"/><circle cx="202.90" cy="514.00" r="4.60" fill="url(#gBr)"/><circle cx="168.70" cy="492.10" r="4.60" fill="url(#gBr)"/><circle cx="206.80" cy="495.60" r="4.60" fill="url(#gBr)"/><circle cx="184.90" cy="520.50" r="4.60" fill="url(#gBr)"/><circle cx="144.20" cy="542.80" r="4.60" fill="url(#gBr)"/><circle cx="127.30" cy="570.60" r="4.60" fill="url(#gBr)"/><circle cx="165.60" cy="568.20" r="4.60" fill="url(#gBr)"/><circle cx="160.20" cy="547.80" r="4.60" fill="url(#gBr)"/><circle cx="205.10" cy="550.40" r="4.60" fill="url(#gBr)"/><circle cx="40.40" cy="495.60" r="4.60" fill="url(#gBr)"/><rect x="40.80" y="445.60" width="166.40" height="114.30" fill="none" stroke="#333" stroke-width="1.1"/><circle cx="61.40" cy="472.80" r="5.20" fill="url(#gZn)"/><circle cx="63.60" cy="472.30" r="5.20" fill="url(#gZn)"/><circle cx="65.80" cy="471.70" r="5.20" fill="url(#gZn)"/><circle cx="68.70" cy="471.00" r="5.20" fill="url(#gZn)"/><circle cx="74.50" cy="470.40" r="5.20" fill="url(#gZn)"/><circle cx="81.40" cy="470.70" r="5.20" fill="url(#gZn)"/><circle cx="88.30" cy="471.80" r="5.20" fill="url(#gZn)"/><circle cx="95.20" cy="473.30" r="5.20" fill="url(#gZn)"/><circle cx="99.00" cy="474.40" r="5.20" fill="url(#gZn)"/><circle cx="102.90" cy="474.90" r="5.20" fill="url(#gZn)"/><circle cx="106.70" cy="475.40" r="5.20" fill="url(#gZn)"/><circle cx="110.50" cy="476.20" r="5.20" fill="url(#gZn)"/><circle cx="116.70" cy="476.10" r="5.20" fill="url(#gZn)"/><circle cx="124.30" cy="475.30" r="5.20" fill="url(#gZn)"/><circle cx="131.20" cy="474.30" r="5.20" fill="url(#gZn)"/><circle cx="136.80" cy="473.00" r="5.20" fill="url(#gZn)"/><circle cx="140.60" cy="472.40" r="5.20" fill="url(#gZn)"/><circle cx="144.40" cy="471.80" r="5.20" fill="url(#gZn)"/><circle cx="10.00" cy="453.70" r="3.9" fill="url(#gZn)" stroke="#7c7e72" stroke-width="0.7"/><text x="15.60" y="458.10" font-size="12.3" fill="#111">Zn</text><circle cx="10.00" cy="467.10" r="3.9" fill="url(#gBr)" stroke="#5a0d34" stroke-width="0.7"/><text x="15.60" y="471.50" font-size="12.3" fill="#111">Br</text><circle cx="10.00" cy="480.90" r="3.9" fill="url(#gC)" stroke="#5e3814" stroke-width="0.7"/><text x="15.60" y="485.30" font-size="12.3" fill="#111">C</text><circle cx="10.00" cy="494.30" r="3.9" fill="url(#gN)" stroke="#1818c0" stroke-width="0.7"/><text x="15.60" y="498.70" font-size="12.3" fill="#111">N</text><circle cx="10.00" cy="507.90" r="3.9" fill="url(#gH)" stroke="#b89898" stroke-width="0.7"/><text x="15.60" y="512.30" font-size="12.3" fill="#111">H</text><circle cx="10.9" cy="550.4" r="2.5" fill="#000"/><path d="M10.90 550.40L10.90 533.30" stroke="#000" stroke-width="1.3"/><path d="M10.90 528.50L13.80 533.30L8.00 533.30Z" fill="#000"/><path d="M10.90 550.40L28.70 550.40" stroke="#000" stroke-width="1.3"/><path d="M33.50 550.40L28.70 553.30L28.70 547.50Z" fill="#000"/><g font-size="11.6" fill="#111" text-anchor="middle"><text x="10.9" y="526.6">b</text><text x="32.3" y="563.2">a</text><text x="10.9" y="563.2">c</text></g><circle cx="61.90" cy="600.50" r="4.60" fill="url(#gZnL)"/><path d="M41.10 588.30L78.50 585.30L62.70 613.30Z" fill="#a9aea9" fill-opacity="0.82" stroke="#5f645f" stroke-width="0.6" stroke-linejoin="round"/><circle cx="103.50" cy="656.80" r="4.60" fill="url(#gZnL)"/><path d="M86.90 643.00L124.30 645.70L103.50 670.70Z" fill="#a3a8a3" fill-opacity="0.85" stroke="#5f645f" stroke-width="0.6" stroke-linejoin="round"/><path d="M103.50 636.60L81.30 660.40L118.80 665.20Z" fill="#afb4af" fill-opacity="0.78" stroke="#5f645f" stroke-width="0.6" stroke-linejoin="round"/><circle cx="62.00" cy="707.00" r="4.60" fill="url(#gZnL)"/><path d="M61.90 693.70L45.30 719.80L82.70 717.90Z" fill="#a9aea9" fill-opacity="0.82" stroke="#5f645f" stroke-width="0.6" stroke-linejoin="round"/><circle cx="145.10" cy="600.50" r="4.60" fill="url(#gZnL)"/><path d="M124.30 588.30L161.70 585.30L145.90 613.30Z" fill="#a9aea9" fill-opacity="0.82" stroke="#5f645f" stroke-width="0.6" stroke-linejoin="round"/><circle cx="186.70" cy="656.80" r="4.60" fill="url(#gZnL)"/><path d="M170.10 643.00L207.50 645.70L186.70 670.70Z" fill="#a3a8a3" fill-opacity="0.85" stroke="#5f645f" stroke-width="0.6" stroke-linejoin="round"/><path d="M186.70 636.60L164.50 660.40L202.00 665.20Z" fill="#afb4af" fill-opacity="0.78" stroke="#5f645f" stroke-width="0.6" stroke-linejoin="round"/><circle cx="145.20" cy="707.00" r="4.60" fill="url(#gZnL)"/><path d="M145.10 693.70L128.50 719.80L165.90 717.90Z" fill="#a9aea9" fill-opacity="0.82" stroke="#5f645f" stroke-width="0.6" stroke-linejoin="round"/><path d="M95.00 603.00L97.90 604.70" stroke="#e6cccc" stroke-width="1.1"/><path d="M94.00 614.00L98.60 610.50" stroke="#e6cccc" stroke-width="1.1"/><path d="M96.00 618.00L98.60 610.50" stroke="#e6cccc" stroke-width="1.1"/><path d="M102.00 606.00L97.90 604.70" stroke="#e6cccc" stroke-width="1.1"/><path d="M115.00 614.00L112.80 610.50" stroke="#e6cccc" stroke-width="1.1"/><path d="M118.00 617.00L112.80 610.50" stroke="#e6cccc" stroke-width="1.1"/><path d="M85.00 599.00L89.50 601.40" stroke="#e6cccc" stroke-width="1.1"/><path d="M85.00 604.00L89.50 601.40" stroke="#e6cccc" stroke-width="1.1"/><path d="M123.00 596.00L118.00 596.70" stroke="#e6cccc" stroke-width="1.1"/><path d="M114.00 599.00L118.00 596.70" stroke="#e6cccc" stroke-width="1.1"/><path d="M106.00 609.00L111.40 605.40" stroke="#e6cccc" stroke-width="1.1"/><path d="M114.00 617.00L112.80 610.50" stroke="#e6cccc" stroke-width="1.1"/><circle cx="95.00" cy="603.00" r="1.8" fill="#f8eded" stroke="#c29696" stroke-width="0.55"/><circle cx="94.00" cy="614.00" r="1.8" fill="#f8eded" stroke="#c29696" stroke-width="0.55"/><circle cx="96.00" cy="618.00" r="1.8" fill="#f8eded" stroke="#c29696" stroke-width="0.55"/><circle cx="102.00" cy="606.00" r="1.8" fill="#f8eded" stroke="#c29696" stroke-width="0.55"/><circle cx="115.00" cy="614.00" r="1.8" fill="#f8eded" stroke="#c29696" stroke-width="0.55"/><circle cx="118.00" cy="617.00" r="1.8" fill="#f8eded" stroke="#c29696" stroke-width="0.55"/><circle cx="85.00" cy="599.00" r="1.8" fill="#f8eded" stroke="#c29696" stroke-width="0.55"/><circle cx="85.00" cy="604.00" r="1.8" fill="#f8eded" stroke="#c29696" stroke-width="0.55"/><circle cx="123.00" cy="596.00" r="1.8" fill="#f8eded" stroke="#c29696" stroke-width="0.55"/><circle cx="114.00" cy="599.00" r="1.8" fill="#f8eded" stroke="#c29696" stroke-width="0.55"/><circle cx="106.00" cy="609.00" r="1.8" fill="#f8eded" stroke="#c29696" stroke-width="0.55"/><circle cx="114.00" cy="617.00" r="1.8" fill="#f8eded" stroke="#c29696" stroke-width="0.55"/><path d="M89.50 601.40L93.70 603.05" stroke="#2323ff" stroke-width="1.9"/><path d="M93.70 603.05L97.90 604.70" stroke="#8b5a2c" stroke-width="1.9"/><path d="M97.90 604.70L104.65 605.05" stroke="#8b5a2c" stroke-width="1.9"/><path d="M104.65 605.05L111.40 605.40" stroke="#8b5a2c" stroke-width="1.9"/><path d="M111.40 605.40L114.70 601.05" stroke="#8b5a2c" stroke-width="1.9"/><path d="M114.70 601.05L118.00 596.70" stroke="#2323ff" stroke-width="1.9"/><path d="M98.60 610.50L105.70 610.50" stroke="#8b5a2c" stroke-width="1.9"/><path d="M105.70 610.50L112.80 610.50" stroke="#8b5a2c" stroke-width="1.9"/><path d="M97.90 604.70L98.25 607.60" stroke="#8b5a2c" stroke-width="1.9"/><path d="M98.25 607.60L98.60 610.50" stroke="#8b5a2c" stroke-width="1.9"/><path d="M111.40 605.40L112.10 607.95" stroke="#8b5a2c" stroke-width="1.9"/><path d="M112.10 607.95L112.80 610.50" stroke="#8b5a2c" stroke-width="1.9"/><circle cx="97.90" cy="604.70" r="2.60" fill="url(#gC)"/><circle cx="98.60" cy="610.50" r="2.60" fill="url(#gC)"/><circle cx="111.40" cy="605.40" r="2.60" fill="url(#gC)"/><circle cx="112.80" cy="610.50" r="2.60" fill="url(#gC)"/><circle cx="89.50" cy="601.40" r="2.60" fill="url(#gN)"/><circle cx="118.00" cy="596.70" r="2.60" fill="url(#gN)"/><path d="M91.00 689.00L96.40 696.00" stroke="#e6cccc" stroke-width="1.1"/><path d="M89.00 696.00L96.40 696.00" stroke="#e6cccc" stroke-width="1.1"/><path d="M97.00 692.00L96.40 696.00" stroke="#e6cccc" stroke-width="1.1"/><path d="M104.00 699.00L108.80 701.40" stroke="#e6cccc" stroke-width="1.1"/><path d="M112.00 690.00L109.90 696.70" stroke="#e6cccc" stroke-width="1.1"/><path d="M114.00 685.00L109.90 696.70" stroke="#e6cccc" stroke-width="1.1"/><path d="M84.00 709.00L89.50 708.70" stroke="#e6cccc" stroke-width="1.1"/><path d="M87.00 712.00L89.50 708.70" stroke="#e6cccc" stroke-width="1.1"/><path d="M123.00 709.00L118.00 706.90" stroke="#e6cccc" stroke-width="1.1"/><path d="M120.00 704.00L118.00 706.90" stroke="#e6cccc" stroke-width="1.1"/><path d="M107.00 705.00L108.80 701.40" stroke="#e6cccc" stroke-width="1.1"/><path d="M100.00 704.00L95.00 702.20" stroke="#e6cccc" stroke-width="1.1"/><circle cx="91.00" cy="689.00" r="1.8" fill="#f8eded" stroke="#c29696" stroke-width="0.55"/><circle cx="89.00" cy="696.00" r="1.8" fill="#f8eded" stroke="#c29696" stroke-width="0.55"/><circle cx="97.00" cy="692.00" r="1.8" fill="#f8eded" stroke="#c29696" stroke-width="0.55"/><circle cx="104.00" cy="699.00" r="1.8" fill="#f8eded" stroke="#c29696" stroke-width="0.55"/><circle cx="112.00" cy="690.00" r="1.8" fill="#f8eded" stroke="#c29696" stroke-width="0.55"/><circle cx="114.00" cy="685.00" r="1.8" fill="#f8eded" stroke="#c29696" stroke-width="0.55"/><circle cx="84.00" cy="709.00" r="1.8" fill="#f8eded" stroke="#c29696" stroke-width="0.55"/><circle cx="87.00" cy="712.00" r="1.8" fill="#f8eded" stroke="#c29696" stroke-width="0.55"/><circle cx="123.00" cy="709.00" r="1.8" fill="#f8eded" stroke="#c29696" stroke-width="0.55"/><circle cx="120.00" cy="704.00" r="1.8" fill="#f8eded" stroke="#c29696" stroke-width="0.55"/><circle cx="107.00" cy="705.00" r="1.8" fill="#f8eded" stroke="#c29696" stroke-width="0.55"/><circle cx="100.00" cy="704.00" r="1.8" fill="#f8eded" stroke="#c29696" stroke-width="0.55"/><path d="M89.50 708.70L92.25 705.45" stroke="#2323ff" stroke-width="1.9"/><path d="M92.25 705.45L95.00 702.20" stroke="#8b5a2c" stroke-width="1.9"/><path d="M95.00 702.20L101.90 701.80" stroke="#8b5a2c" stroke-width="1.9"/><path d="M101.90 701.80L108.80 701.40" stroke="#8b5a2c" stroke-width="1.9"/><path d="M108.80 701.40L113.40 704.15" stroke="#8b5a2c" stroke-width="1.9"/><path d="M113.40 704.15L118.00 706.90" stroke="#2323ff" stroke-width="1.9"/><path d="M96.40 696.00L103.15 696.35" stroke="#8b5a2c" stroke-width="1.9"/><path d="M103.15 696.35L109.90 696.70" stroke="#8b5a2c" stroke-width="1.9"/><path d="M96.40 696.00L95.70 699.10" stroke="#8b5a2c" stroke-width="1.9"/><path d="M95.70 699.10L95.00 702.20" stroke="#8b5a2c" stroke-width="1.9"/><path d="M109.90 696.70L109.35 699.05" stroke="#8b5a2c" stroke-width="1.9"/><path d="M109.35 699.05L108.80 701.40" stroke="#8b5a2c" stroke-width="1.9"/><circle cx="96.40" cy="696.00" r="2.60" fill="url(#gC)"/><circle cx="95.00" cy="702.20" r="2.60" fill="url(#gC)"/><circle cx="109.90" cy="696.70" r="2.60" fill="url(#gC)"/><circle cx="108.80" cy="701.40" r="2.60" fill="url(#gC)"/><circle cx="89.50" cy="708.70" r="2.60" fill="url(#gN)"/><circle cx="118.00" cy="706.90" r="2.60" fill="url(#gN)"/><path d="M52.20 629.60L56.20 639.50" stroke="#e6cccc" stroke-width="1.1"/><path d="M50.40 636.20L56.20 639.50" stroke="#e6cccc" stroke-width="1.1"/><path d="M76.00 633.20L69.40 639.50" stroke="#e6cccc" stroke-width="1.1"/><path d="M75.20 636.50L69.40 639.50" stroke="#e6cccc" stroke-width="1.1"/><path d="M57.30 648.60L55.90 644.90" stroke="#e6cccc" stroke-width="1.1"/><path d="M46.40 668.60L55.50 668.30" stroke="#e6cccc" stroke-width="1.1"/><path d="M49.30 674.90L55.50 668.30" stroke="#e6cccc" stroke-width="1.1"/><path d="M55.50 671.90L55.50 668.30" stroke="#e6cccc" stroke-width="1.1"/><path d="M71.60 671.20L67.90 665.70" stroke="#e6cccc" stroke-width="1.1"/><path d="M73.80 675.20L67.90 665.70" stroke="#e6cccc" stroke-width="1.1"/><path d="M40.20 656.60L49.00 655.50" stroke="#e6cccc" stroke-width="1.1"/><path d="M45.30 652.60L47.50 648.90" stroke="#e6cccc" stroke-width="1.1"/><path d="M83.30 653.00L75.20 651.90" stroke="#e6cccc" stroke-width="1.1"/><path d="M83.60 655.10L75.20 651.90" stroke="#e6cccc" stroke-width="1.1"/><path d="M77.40 655.90L73.80 657.70" stroke="#e6cccc" stroke-width="1.1"/><path d="M53.70 665.70L55.50 668.30" stroke="#e6cccc" stroke-width="1.1"/><path d="M66.10 658.40L66.50 662.10" stroke="#e6cccc" stroke-width="1.1"/><path d="M65.00 648.00L68.70 643.80" stroke="#e6cccc" stroke-width="1.1"/><circle cx="52.20" cy="629.60" r="1.8" fill="#f8eded" stroke="#c29696" stroke-width="0.55"/><circle cx="50.40" cy="636.20" r="1.8" fill="#f8eded" stroke="#c29696" stroke-width="0.55"/><circle cx="76.00" cy="633.20" r="1.8" fill="#f8eded" stroke="#c29696" stroke-width="0.55"/><circle cx="75.20" cy="636.50" r="1.8" fill="#f8eded" stroke="#c29696" stroke-width="0.55"/><circle cx="57.30" cy="648.60" r="1.8" fill="#f8eded" stroke="#c29696" stroke-width="0.55"/><circle cx="46.40" cy="668.60" r="1.8" fill="#f8eded" stroke="#c29696" stroke-width="0.55"/><circle cx="49.30" cy="674.90" r="1.8" fill="#f8eded" stroke="#c29696" stroke-width="0.55"/><circle cx="55.50" cy="671.90" r="1.8" fill="#f8eded" stroke="#c29696" stroke-width="0.55"/><circle cx="71.60" cy="671.20" r="1.8" fill="#f8eded" stroke="#c29696" stroke-width="0.55"/><circle cx="73.80" cy="675.20" r="1.8" fill="#f8eded" stroke="#c29696" stroke-width="0.55"/><circle cx="40.20" cy="656.60" r="1.8" fill="#f8eded" stroke="#c29696" stroke-width="0.55"/><circle cx="45.30" cy="652.60" r="1.8" fill="#f8eded" stroke="#c29696" stroke-width="0.55"/><circle cx="83.30" cy="653.00" r="1.8" fill="#f8eded" stroke="#c29696" stroke-width="0.55"/><circle cx="83.60" cy="655.10" r="1.8" fill="#f8eded" stroke="#c29696" stroke-width="0.55"/><circle cx="77.40" cy="655.90" r="1.8" fill="#f8eded" stroke="#c29696" stroke-width="0.55"/><circle cx="53.70" cy="665.70" r="1.8" fill="#f8eded" stroke="#c29696" stroke-width="0.55"/><circle cx="66.10" cy="658.40" r="1.8" fill="#f8eded" stroke="#c29696" stroke-width="0.55"/><circle cx="65.00" cy="648.00" r="1.8" fill="#f8eded" stroke="#c29696" stroke-width="0.55"/><path d="M47.50 648.90L51.85 644.20" stroke="#2323ff" stroke-width="1.9"/><path d="M51.85 644.20L56.20 639.50" stroke="#8b5a2c" stroke-width="1.9"/><path d="M56.20 639.50L62.80 639.50" stroke="#8b5a2c" stroke-width="1.9"/><path d="M62.80 639.50L69.40 639.50" stroke="#8b5a2c" stroke-width="1.9"/><path d="M69.40 639.50L72.30 645.70" stroke="#8b5a2c" stroke-width="1.9"/><path d="M72.30 645.70L75.20 651.90" stroke="#2323ff" stroke-width="1.9"/><path d="M75.20 651.90L70.85 657.00" stroke="#2323ff" stroke-width="1.9"/><path d="M70.85 657.00L66.50 662.10" stroke="#8b5a2c" stroke-width="1.9"/><path d="M66.50 662.10L59.90 662.10" stroke="#8b5a2c" stroke-width="1.9"/><path d="M59.90 662.10L53.30 662.10" stroke="#8b5a2c" stroke-width="1.9"/><path d="M53.30 662.10L50.40 655.50" stroke="#8b5a2c" stroke-width="1.9"/><path d="M50.40 655.50L47.50 648.90" stroke="#2323ff" stroke-width="1.9"/><path d="M49.00 655.50L52.45 650.20" stroke="#2323ff" stroke-width="1.9"/><path d="M52.45 650.20L55.90 644.90" stroke="#8b5a2c" stroke-width="1.9"/><path d="M55.90 644.90L62.30 644.35" stroke="#8b5a2c" stroke-width="1.9"/><path d="M62.30 644.35L68.70 643.80" stroke="#8b5a2c" stroke-width="1.9"/><path d="M68.70 643.80L71.25 650.75" stroke="#8b5a2c" stroke-width="1.9"/><path d="M71.25 650.75L73.80 657.70" stroke="#2323ff" stroke-width="1.9"/><path d="M73.80 657.70L70.85 661.70" stroke="#2323ff" stroke-width="1.9"/><path d="M70.85 661.70L67.90 665.70" stroke="#8b5a2c" stroke-width="1.9"/><path d="M67.90 665.70L61.70 667.00" stroke="#8b5a2c" stroke-width="1.9"/><path d="M61.70 667.00L55.50 668.30" stroke="#8b5a2c" stroke-width="1.9"/><path d="M55.50 668.30L52.25 661.90" stroke="#8b5a2c" stroke-width="1.9"/><path d="M52.25 661.90L49.00 655.50" stroke="#2323ff" stroke-width="1.9"/><circle cx="56.20" cy="639.50" r="2.60" fill="url(#gC)"/><circle cx="69.40" cy="639.50" r="2.60" fill="url(#gC)"/><circle cx="55.90" cy="644.90" r="2.60" fill="url(#gC)"/><circle cx="68.70" cy="643.80" r="2.60" fill="url(#gC)"/><circle cx="53.30" cy="662.10" r="2.60" fill="url(#gC)"/><circle cx="66.50" cy="662.10" r="2.60" fill="url(#gC)"/><circle cx="55.50" cy="668.30" r="2.60" fill="url(#gC)"/><circle cx="67.90" cy="665.70" r="2.60" fill="url(#gC)"/><circle cx="47.50" cy="648.90" r="2.60" fill="url(#gN)"/><circle cx="49.00" cy="655.50" r="2.60" fill="url(#gN)"/><circle cx="75.20" cy="651.90" r="2.60" fill="url(#gN)"/><circle cx="73.80" cy="657.70" r="2.60" fill="url(#gN)"/><path d="M178.20 603.00L181.10 604.70" stroke="#e6cccc" stroke-width="1.1"/><path d="M177.20 614.00L181.80 610.50" stroke="#e6cccc" stroke-width="1.1"/><path d="M179.20 618.00L181.80 610.50" stroke="#e6cccc" stroke-width="1.1"/><path d="M185.20 606.00L181.10 604.70" stroke="#e6cccc" stroke-width="1.1"/><path d="M198.20 614.00L196.00 610.50" stroke="#e6cccc" stroke-width="1.1"/><path d="M201.20 617.00L196.00 610.50" stroke="#e6cccc" stroke-width="1.1"/><path d="M168.20 599.00L172.70 601.40" stroke="#e6cccc" stroke-width="1.1"/><path d="M168.20 604.00L172.70 601.40" stroke="#e6cccc" stroke-width="1.1"/><path d="M206.20 596.00L201.20 596.70" stroke="#e6cccc" stroke-width="1.1"/><path d="M197.20 599.00L201.20 596.70" stroke="#e6cccc" stroke-width="1.1"/><path d="M189.20 609.00L194.60 605.40" stroke="#e6cccc" stroke-width="1.1"/><path d="M197.20 617.00L196.00 610.50" stroke="#e6cccc" stroke-width="1.1"/><circle cx="178.20" cy="603.00" r="1.8" fill="#f8eded" stroke="#c29696" stroke-width="0.55"/><circle cx="177.20" cy="614.00" r="1.8" fill="#f8eded" stroke="#c29696" stroke-width="0.55"/><circle cx="179.20" cy="618.00" r="1.8" fill="#f8eded" stroke="#c29696" stroke-width="0.55"/><circle cx="185.20" cy="606.00" r="1.8" fill="#f8eded" stroke="#c29696" stroke-width="0.55"/><circle cx="198.20" cy="614.00" r="1.8" fill="#f8eded" stroke="#c29696" stroke-width="0.55"/><circle cx="201.20" cy="617.00" r="1.8" fill="#f8eded" stroke="#c29696" stroke-width="0.55"/><circle cx="168.20" cy="599.00" r="1.8" fill="#f8eded" stroke="#c29696" stroke-width="0.55"/><circle cx="168.20" cy="604.00" r="1.8" fill="#f8eded" stroke="#c29696" stroke-width="0.55"/><circle cx="206.20" cy="596.00" r="1.8" fill="#f8eded" stroke="#c29696" stroke-width="0.55"/><circle cx="197.20" cy="599.00" r="1.8" fill="#f8eded" stroke="#c29696" stroke-width="0.55"/><circle cx="189.20" cy="609.00" r="1.8" fill="#f8eded" stroke="#c29696" stroke-width="0.55"/><circle cx="197.20" cy="617.00" r="1.8" fill="#f8eded" stroke="#c29696" stroke-width="0.55"/><path d="M172.70 601.40L176.90 603.05" stroke="#2323ff" stroke-width="1.9"/><path d="M176.90 603.05L181.10 604.70" stroke="#8b5a2c" stroke-width="1.9"/><path d="M181.10 604.70L187.85 605.05" stroke="#8b5a2c" stroke-width="1.9"/><path d="M187.85 605.05L194.60 605.40" stroke="#8b5a2c" stroke-width="1.9"/><path d="M194.60 605.40L197.90 601.05" stroke="#8b5a2c" stroke-width="1.9"/><path d="M197.90 601.05L201.20 596.70" stroke="#2323ff" stroke-width="1.9"/><path d="M181.80 610.50L188.90 610.50" stroke="#8b5a2c" stroke-width="1.9"/><path d="M188.90 610.50L196.00 610.50" stroke="#8b5a2c" stroke-width="1.9"/><path d="M181.10 604.70L181.45 607.60" stroke="#8b5a2c" stroke-width="1.9"/><path d="M181.45 607.60L181.80 610.50" stroke="#8b5a2c" stroke-width="1.9"/><path d="M194.60 605.40L195.30 607.95" stroke="#8b5a2c" stroke-width="1.9"/><path d="M195.30 607.95L196.00 610.50" stroke="#8b5a2c" stroke-width="1.9"/><circle cx="181.10" cy="604.70" r="2.60" fill="url(#gC)"/><circle cx="181.80" cy="610.50" r="2.60" fill="url(#gC)"/><circle cx="194.60" cy="605.40" r="2.60" fill="url(#gC)"/><circle cx="196.00" cy="610.50" r="2.60" fill="url(#gC)"/><circle cx="172.70" cy="601.40" r="2.60" fill="url(#gN)"/><circle cx="201.20" cy="596.70" r="2.60" fill="url(#gN)"/><path d="M174.20 689.00L179.60 696.00" stroke="#e6cccc" stroke-width="1.1"/><path d="M172.20 696.00L179.60 696.00" stroke="#e6cccc" stroke-width="1.1"/><path d="M180.20 692.00L179.60 696.00" stroke="#e6cccc" stroke-width="1.1"/><path d="M187.20 699.00L192.00 701.40" stroke="#e6cccc" stroke-width="1.1"/><path d="M195.20 690.00L193.10 696.70" stroke="#e6cccc" stroke-width="1.1"/><path d="M197.20 685.00L193.10 696.70" stroke="#e6cccc" stroke-width="1.1"/><path d="M167.20 709.00L172.70 708.70" stroke="#e6cccc" stroke-width="1.1"/><path d="M170.20 712.00L172.70 708.70" stroke="#e6cccc" stroke-width="1.1"/><path d="M206.20 709.00L201.20 706.90" stroke="#e6cccc" stroke-width="1.1"/><path d="M203.20 704.00L201.20 706.90" stroke="#e6cccc" stroke-width="1.1"/><path d="M190.20 705.00L192.00 701.40" stroke="#e6cccc" stroke-width="1.1"/><path d="M183.20 704.00L178.20 702.20" stroke="#e6cccc" stroke-width="1.1"/><circle cx="174.20" cy="689.00" r="1.8" fill="#f8eded" stroke="#c29696" stroke-width="0.55"/><circle cx="172.20" cy="696.00" r="1.8" fill="#f8eded" stroke="#c29696" stroke-width="0.55"/><circle cx="180.20" cy="692.00" r="1.8" fill="#f8eded" stroke="#c29696" stroke-width="0.55"/><circle cx="187.20" cy="699.00" r="1.8" fill="#f8eded" stroke="#c29696" stroke-width="0.55"/><circle cx="195.20" cy="690.00" r="1.8" fill="#f8eded" stroke="#c29696" stroke-width="0.55"/><circle cx="197.20" cy="685.00" r="1.8" fill="#f8eded" stroke="#c29696" stroke-width="0.55"/><circle cx="167.20" cy="709.00" r="1.8" fill="#f8eded" stroke="#c29696" stroke-width="0.55"/><circle cx="170.20" cy="712.00" r="1.8" fill="#f8eded" stroke="#c29696" stroke-width="0.55"/><circle cx="206.20" cy="709.00" r="1.8" fill="#f8eded" stroke="#c29696" stroke-width="0.55"/><circle cx="203.20" cy="704.00" r="1.8" fill="#f8eded" stroke="#c29696" stroke-width="0.55"/><circle cx="190.20" cy="705.00" r="1.8" fill="#f8eded" stroke="#c29696" stroke-width="0.55"/><circle cx="183.20" cy="704.00" r="1.8" fill="#f8eded" stroke="#c29696" stroke-width="0.55"/><path d="M172.70 708.70L175.45 705.45" stroke="#2323ff" stroke-width="1.9"/><path d="M175.45 705.45L178.20 702.20" stroke="#8b5a2c" stroke-width="1.9"/><path d="M178.20 702.20L185.10 701.80" stroke="#8b5a2c" stroke-width="1.9"/><path d="M185.10 701.80L192.00 701.40" stroke="#8b5a2c" stroke-width="1.9"/><path d="M192.00 701.40L196.60 704.15" stroke="#8b5a2c" stroke-width="1.9"/><path d="M196.60 704.15L201.20 706.90" stroke="#2323ff" stroke-width="1.9"/><path d="M179.60 696.00L186.35 696.35" stroke="#8b5a2c" stroke-width="1.9"/><path d="M186.35 696.35L193.10 696.70" stroke="#8b5a2c" stroke-width="1.9"/><path d="M179.60 696.00L178.90 699.10" stroke="#8b5a2c" stroke-width="1.9"/><path d="M178.90 699.10L178.20 702.20" stroke="#8b5a2c" stroke-width="1.9"/><path d="M193.10 696.70L192.55 699.05" stroke="#8b5a2c" stroke-width="1.9"/><path d="M192.55 699.05L192.00 701.40" stroke="#8b5a2c" stroke-width="1.9"/><circle cx="179.60" cy="696.00" r="2.60" fill="url(#gC)"/><circle cx="178.20" cy="702.20" r="2.60" fill="url(#gC)"/><circle cx="193.10" cy="696.70" r="2.60" fill="url(#gC)"/><circle cx="192.00" cy="701.40" r="2.60" fill="url(#gC)"/><circle cx="172.70" cy="708.70" r="2.60" fill="url(#gN)"/><circle cx="201.20" cy="706.90" r="2.60" fill="url(#gN)"/><path d="M135.40 629.60L139.40 639.50" stroke="#e6cccc" stroke-width="1.1"/><path d="M133.60 636.20L139.40 639.50" stroke="#e6cccc" stroke-width="1.1"/><path d="M159.20 633.20L152.60 639.50" stroke="#e6cccc" stroke-width="1.1"/><path d="M158.40 636.50L152.60 639.50" stroke="#e6cccc" stroke-width="1.1"/><path d="M140.50 648.60L139.10 644.90" stroke="#e6cccc" stroke-width="1.1"/><path d="M129.60 668.60L138.70 668.30" stroke="#e6cccc" stroke-width="1.1"/><path d="M132.50 674.90L138.70 668.30" stroke="#e6cccc" stroke-width="1.1"/><path d="M138.70 671.90L138.70 668.30" stroke="#e6cccc" stroke-width="1.1"/><path d="M154.80 671.20L151.10 665.70" stroke="#e6cccc" stroke-width="1.1"/><path d="M157.00 675.20L151.10 665.70" stroke="#e6cccc" stroke-width="1.1"/><path d="M123.40 656.60L132.20 655.50" stroke="#e6cccc" stroke-width="1.1"/><path d="M128.50 652.60L130.70 648.90" stroke="#e6cccc" stroke-width="1.1"/><path d="M166.50 653.00L158.40 651.90" stroke="#e6cccc" stroke-width="1.1"/><path d="M166.80 655.10L158.40 651.90" stroke="#e6cccc" stroke-width="1.1"/><path d="M160.60 655.90L157.00 657.70" stroke="#e6cccc" stroke-width="1.1"/><path d="M136.90 665.70L138.70 668.30" stroke="#e6cccc" stroke-width="1.1"/><path d="M149.30 658.40L149.70 662.10" stroke="#e6cccc" stroke-width="1.1"/><path d="M148.20 648.00L151.90 643.80" stroke="#e6cccc" stroke-width="1.1"/><circle cx="135.40" cy="629.60" r="1.8" fill="#f8eded" stroke="#c29696" stroke-width="0.55"/><circle cx="133.60" cy="636.20" r="1.8" fill="#f8eded" stroke="#c29696" stroke-width="0.55"/><circle cx="159.20" cy="633.20" r="1.8" fill="#f8eded" stroke="#c29696" stroke-width="0.55"/><circle cx="158.40" cy="636.50" r="1.8" fill="#f8eded" stroke="#c29696" stroke-width="0.55"/><circle cx="140.50" cy="648.60" r="1.8" fill="#f8eded" stroke="#c29696" stroke-width="0.55"/><circle cx="129.60" cy="668.60" r="1.8" fill="#f8eded" stroke="#c29696" stroke-width="0.55"/><circle cx="132.50" cy="674.90" r="1.8" fill="#f8eded" stroke="#c29696" stroke-width="0.55"/><circle cx="138.70" cy="671.90" r="1.8" fill="#f8eded" stroke="#c29696" stroke-width="0.55"/><circle cx="154.80" cy="671.20" r="1.8" fill="#f8eded" stroke="#c29696" stroke-width="0.55"/><circle cx="157.00" cy="675.20" r="1.8" fill="#f8eded" stroke="#c29696" stroke-width="0.55"/><circle cx="123.40" cy="656.60" r="1.8" fill="#f8eded" stroke="#c29696" stroke-width="0.55"/><circle cx="128.50" cy="652.60" r="1.8" fill="#f8eded" stroke="#c29696" stroke-width="0.55"/><circle cx="166.50" cy="653.00" r="1.8" fill="#f8eded" stroke="#c29696" stroke-width="0.55"/><circle cx="166.80" cy="655.10" r="1.8" fill="#f8eded" stroke="#c29696" stroke-width="0.55"/><circle cx="160.60" cy="655.90" r="1.8" fill="#f8eded" stroke="#c29696" stroke-width="0.55"/><circle cx="136.90" cy="665.70" r="1.8" fill="#f8eded" stroke="#c29696" stroke-width="0.55"/><circle cx="149.30" cy="658.40" r="1.8" fill="#f8eded" stroke="#c29696" stroke-width="0.55"/><circle cx="148.20" cy="648.00" r="1.8" fill="#f8eded" stroke="#c29696" stroke-width="0.55"/><path d="M130.70 648.90L135.05 644.20" stroke="#2323ff" stroke-width="1.9"/><path d="M135.05 644.20L139.40 639.50" stroke="#8b5a2c" stroke-width="1.9"/><path d="M139.40 639.50L146.00 639.50" stroke="#8b5a2c" stroke-width="1.9"/><path d="M146.00 639.50L152.60 639.50" stroke="#8b5a2c" stroke-width="1.9"/><path d="M152.60 639.50L155.50 645.70" stroke="#8b5a2c" stroke-width="1.9"/><path d="M155.50 645.70L158.40 651.90" stroke="#2323ff" stroke-width="1.9"/><path d="M158.40 651.90L154.05 657.00" stroke="#2323ff" stroke-width="1.9"/><path d="M154.05 657.00L149.70 662.10" stroke="#8b5a2c" stroke-width="1.9"/><path d="M149.70 662.10L143.10 662.10" stroke="#8b5a2c" stroke-width="1.9"/><path d="M143.10 662.10L136.50 662.10" stroke="#8b5a2c" stroke-width="1.9"/><path d="M136.50 662.10L133.60 655.50" stroke="#8b5a2c" stroke-width="1.9"/><path d="M133.60 655.50L130.70 648.90" stroke="#2323ff" stroke-width="1.9"/><path d="M132.20 655.50L135.65 650.20" stroke="#2323ff" stroke-width="1.9"/><path d="M135.65 650.20L139.10 644.90" stroke="#8b5a2c" stroke-width="1.9"/><path d="M139.10 644.90L145.50 644.35" stroke="#8b5a2c" stroke-width="1.9"/><path d="M145.50 644.35L151.90 643.80" stroke="#8b5a2c" stroke-width="1.9"/><path d="M151.90 643.80L154.45 650.75" stroke="#8b5a2c" stroke-width="1.9"/><path d="M154.45 650.75L157.00 657.70" stroke="#2323ff" stroke-width="1.9"/><path d="M157.00 657.70L154.05 661.70" stroke="#2323ff" stroke-width="1.9"/><path d="M154.05 661.70L151.10 665.70" stroke="#8b5a2c" stroke-width="1.9"/><path d="M151.10 665.70L144.90 667.00" stroke="#8b5a2c" stroke-width="1.9"/><path d="M144.90 667.00L138.70 668.30" stroke="#8b5a2c" stroke-width="1.9"/><path d="M138.70 668.30L135.45 661.90" stroke="#8b5a2c" stroke-width="1.9"/><path d="M135.45 661.90L132.20 655.50" stroke="#2323ff" stroke-width="1.9"/><circle cx="139.40" cy="639.50" r="2.60" fill="url(#gC)"/><circle cx="152.60" cy="639.50" r="2.60" fill="url(#gC)"/><circle cx="139.10" cy="644.90" r="2.60" fill="url(#gC)"/><circle cx="151.90" cy="643.80" r="2.60" fill="url(#gC)"/><circle cx="136.50" cy="662.10" r="2.60" fill="url(#gC)"/><circle cx="149.70" cy="662.10" r="2.60" fill="url(#gC)"/><circle cx="138.70" cy="668.30" r="2.60" fill="url(#gC)"/><circle cx="151.10" cy="665.70" r="2.60" fill="url(#gC)"/><circle cx="130.70" cy="648.90" r="2.60" fill="url(#gN)"/><circle cx="132.20" cy="655.50" r="2.60" fill="url(#gN)"/><circle cx="158.40" cy="651.90" r="2.60" fill="url(#gN)"/><circle cx="157.00" cy="657.70" r="2.60" fill="url(#gN)"/><circle cx="41.10" cy="588.30" r="4.30" fill="url(#gCl)"/><circle cx="78.50" cy="585.30" r="4.30" fill="url(#gCl)"/><circle cx="62.70" cy="613.30" r="4.30" fill="url(#gCl)"/><circle cx="45.80" cy="606.10" r="4.30" fill="url(#gCl)"/><circle cx="83.50" cy="603.30" r="4.30" fill="url(#gCl)"/><circle cx="103.50" cy="636.60" r="4.30" fill="url(#gCl)"/><circle cx="81.30" cy="660.40" r="4.30" fill="url(#gCl)"/><circle cx="118.80" cy="665.20" r="4.30" fill="url(#gCl)"/><circle cx="86.90" cy="643.00" r="4.30" fill="url(#gCl)"/><circle cx="124.30" cy="645.70" r="4.30" fill="url(#gCl)"/><circle cx="103.50" cy="670.70" r="4.30" fill="url(#gCl)"/><circle cx="61.90" cy="693.70" r="4.30" fill="url(#gCl)"/><circle cx="45.30" cy="719.80" r="4.30" fill="url(#gCl)"/><circle cx="82.70" cy="717.90" r="4.30" fill="url(#gCl)"/><circle cx="77.70" cy="699.30" r="4.30" fill="url(#gCl)"/><circle cx="124.30" cy="703.20" r="4.30" fill="url(#gCl)"/><circle cx="124.30" cy="588.30" r="4.30" fill="url(#gCl)"/><circle cx="161.70" cy="585.30" r="4.30" fill="url(#gCl)"/><circle cx="145.90" cy="613.30" r="4.30" fill="url(#gCl)"/><circle cx="129.00" cy="606.10" r="4.30" fill="url(#gCl)"/><circle cx="166.70" cy="603.30" r="4.30" fill="url(#gCl)"/><circle cx="186.70" cy="636.60" r="4.30" fill="url(#gCl)"/><circle cx="164.50" cy="660.40" r="4.30" fill="url(#gCl)"/><circle cx="202.00" cy="665.20" r="4.30" fill="url(#gCl)"/><circle cx="170.10" cy="643.00" r="4.30" fill="url(#gCl)"/><circle cx="207.50" cy="645.70" r="4.30" fill="url(#gCl)"/><circle cx="186.70" cy="670.70" r="4.30" fill="url(#gCl)"/><circle cx="145.10" cy="693.70" r="4.30" fill="url(#gCl)"/><circle cx="128.50" cy="719.80" r="4.30" fill="url(#gCl)"/><circle cx="165.90" cy="717.90" r="4.30" fill="url(#gCl)"/><circle cx="160.90" cy="699.30" r="4.30" fill="url(#gCl)"/><circle cx="207.50" cy="703.20" r="4.30" fill="url(#gCl)"/><circle cx="41.10" cy="645.70" r="4.30" fill="url(#gCl)"/><rect x="41.30" y="596.40" width="166.20" height="114.50" fill="none" stroke="#333" stroke-width="1.1"/><circle cx="103.40" cy="626.90" r="5.20" fill="url(#gZn)"/><circle cx="106.50" cy="627.60" r="5.20" fill="url(#gZn)"/><circle cx="109.60" cy="628.20" r="5.20" fill="url(#gZn)"/><circle cx="116.50" cy="628.40" r="5.20" fill="url(#gZn)"/><circle cx="124.10" cy="627.60" r="5.20" fill="url(#gZn)"/><circle cx="131.00" cy="626.10" r="5.20" fill="url(#gZn)"/><circle cx="137.90" cy="625.00" r="5.20" fill="url(#gZn)"/><circle cx="141.00" cy="624.50" r="5.20" fill="url(#gZn)"/><circle cx="144.80" cy="623.60" r="5.20" fill="url(#gZn)"/><circle cx="147.90" cy="623.30" r="5.20" fill="url(#gZn)"/><circle cx="152.50" cy="623.10" r="5.20" fill="url(#gZn)"/><circle cx="158.60" cy="623.80" r="5.20" fill="url(#gZn)"/><circle cx="165.50" cy="624.90" r="5.20" fill="url(#gZn)"/><circle cx="173.20" cy="625.30" r="5.20" fill="url(#gZn)"/><circle cx="180.10" cy="626.00" r="5.20" fill="url(#gZn)"/><circle cx="183.90" cy="626.10" r="5.20" fill="url(#gZn)"/><circle cx="187.00" cy="625.80" r="5.20" fill="url(#gZn)"/><circle cx="9.90" cy="611.40" r="3.9" fill="url(#gZn)" stroke="#7c7e72" stroke-width="0.7"/><text x="15.40" y="615.80" font-size="12.3" fill="#111">Zn</text><circle cx="9.90" cy="625.10" r="3.9" fill="url(#gCl)" stroke="#48a81c" stroke-width="0.7"/><text x="15.40" y="629.50" font-size="12.3" fill="#111">Cl</text><circle cx="9.90" cy="638.50" r="3.9" fill="url(#gC)" stroke="#5e3814" stroke-width="0.7"/><text x="15.40" y="642.90" font-size="12.3" fill="#111">C</text><circle cx="9.90" cy="652.30" r="3.9" fill="url(#gN)" stroke="#1818c0" stroke-width="0.7"/><text x="15.40" y="656.70" font-size="12.3" fill="#111">N</text><circle cx="9.90" cy="666.30" r="3.9" fill="url(#gH)" stroke="#b89898" stroke-width="0.7"/><text x="15.40" y="670.70" font-size="12.3" fill="#111">H</text><circle cx="29.6" cy="693.2" r="2.5" fill="#000"/><path d="M29.60 693.20L12.40 693.20" stroke="#000" stroke-width="1.3"/><path d="M7.60 693.20L12.40 690.30L12.40 696.10Z" fill="#000"/><path d="M29.60 693.20L29.60 710.40" stroke="#000" stroke-width="1.3"/><path d="M29.60 715.20L26.70 710.40L32.50 710.40Z" fill="#000"/><g font-size="11.6" fill="#111" text-anchor="middle"><text x="8.6" y="689.3">a</text><text x="30.1" y="689.3">c</text><text x="30.1" y="724.3">b</text></g><path d="M271.30 543.20C275.46 541.27 287.93 536.36 296.25 531.59C304.57 526.82 312.88 521.99 321.20 514.61C329.52 507.22 337.83 496.01 346.15 487.30C354.47 478.59 362.78 462.11 371.10 462.36C379.42 462.61 387.73 480.64 396.05 488.81C404.37 496.98 412.68 504.32 421.00 511.38C429.32 518.44 437.63 526.36 445.95 531.16C454.27 535.96 462.58 540.48 470.90 540.19C479.22 539.90 487.53 534.82 495.85 529.44C504.17 524.07 512.48 515.14 520.80 507.94C529.12 500.74 537.43 493.61 545.75 486.23C554.07 478.84 562.38 462.93 570.70 463.65C579.02 464.37 587.33 481.67 595.65 490.53C603.97 499.38 612.28 510.05 620.60 516.75C628.92 523.46 637.23 526.32 645.55 530.73C653.87 535.14 666.34 541.12 670.50 543.20" fill="none" stroke="#5a9fd3" stroke-width="1.5"/><circle cx="271.30" cy="543.20" r="4.50" fill="url(#gBlue)"/><circle cx="296.25" cy="531.59" r="4.50" fill="url(#gBlue)"/><circle cx="321.20" cy="514.61" r="4.50" fill="url(#gBlue)"/><circle cx="346.15" cy="487.30" r="4.50" fill="url(#gBlue)"/><circle cx="371.10" cy="462.36" r="4.50" fill="url(#gBlue)"/><circle cx="396.05" cy="488.81" r="4.50" fill="url(#gBlue)"/><circle cx="421.00" cy="511.38" r="4.50" fill="url(#gBlue)"/><circle cx="445.95" cy="531.16" r="4.50" fill="url(#gBlue)"/><circle cx="470.90" cy="540.19" r="4.50" fill="url(#gBlue)"/><circle cx="495.85" cy="529.44" r="4.50" fill="url(#gBlue)"/><circle cx="520.80" cy="507.94" r="4.50" fill="url(#gBlue)"/><circle cx="545.75" cy="486.23" r="4.50" fill="url(#gBlue)"/><circle cx="570.70" cy="463.65" r="4.50" fill="url(#gBlue)"/><circle cx="595.65" cy="490.53" r="4.50" fill="url(#gBlue)"/><circle cx="620.60" cy="516.75" r="4.50" fill="url(#gBlue)"/><circle cx="645.55" cy="530.73" r="4.50" fill="url(#gBlue)"/><circle cx="670.50" cy="543.20" r="4.50" fill="url(#gBlue)"/><path d="M266.30 431.60V554.00H676.40V431.60Z" fill="none" stroke="#222" stroke-width="1.2"/><path d="M261.00 543.20H266.30M263.50 532.45H266.30M261.00 521.70H266.30M263.50 510.95H266.30M261.00 500.20H266.30M263.50 489.45H266.30M261.00 478.70H266.30M263.50 467.95H266.30M261.00 457.20H266.30M263.50 446.45H266.30M261.00 435.70H266.30" stroke="#222" stroke-width="1.1"/><text x="257.10" y="547.30" font-size="11.6" fill="#222" text-anchor="end">0.0</text><text x="257.10" y="525.80" font-size="11.6" fill="#222" text-anchor="end">0.1</text><text x="257.10" y="504.30" font-size="11.6" fill="#222" text-anchor="end">0.2</text><text x="257.10" y="482.80" font-size="11.6" fill="#222" text-anchor="end">0.3</text><text x="257.10" y="461.30" font-size="11.6" fill="#222" text-anchor="end">0.4</text><text x="257.10" y="439.80" font-size="11.6" fill="#222" text-anchor="end">0.5</text><text transform="translate(231.80 492.80) rotate(-90)" font-size="14" fill="#222" text-anchor="middle">Energy (eV)</text><text x="283.00" y="547.80" font-size="11.4" fill="#111">initial state</text><path d="M276.3 545.80L281.4 547.50" stroke="#111" stroke-width="0.9"/><text x="599.60" y="548.60" font-size="11.4" fill="#111">final state</text><path d="M659.5 547.80L667.5 545.60" stroke="#111" stroke-width="0.9"/><circle cx="372.10" cy="445.20" r="5.9" fill="none" stroke="#ee3cee" stroke-width="1.1"/><text transform="translate(372.10 449.00) scale(0.72 1)" font-size="10.6" fill="#ee3cee" text-anchor="middle">1</text><circle cx="571.70" cy="445.20" r="5.9" fill="none" stroke="#ee3cee" stroke-width="1.1"/><text transform="translate(571.70 449.00) scale(0.72 1)" font-size="10.6" fill="#ee3cee" text-anchor="middle">2</text><text x="438.60" y="448.90" font-size="11.8" font-weight="bold" fill="#5a9fd3"><tspan font-style="italic">E</tspan> = 0.37 eV</text><path d="M271.30 698.50C275.46 696.10 287.93 689.29 296.25 684.10C304.57 678.90 312.88 675.42 321.20 667.33C329.52 659.23 337.83 644.28 346.15 635.50C354.47 626.73 362.78 614.54 371.10 614.65C379.42 614.76 387.73 628.34 396.05 636.15C404.37 643.96 412.68 653.71 421.00 661.52C429.32 669.33 437.63 677.32 445.95 683.02C454.27 688.72 462.58 695.53 470.90 695.71C479.22 695.88 487.53 689.11 495.85 684.10C504.17 679.08 512.48 673.56 520.80 665.61C529.12 657.65 537.43 644.93 545.75 636.37C554.07 627.80 562.38 614.61 570.70 614.22C579.02 613.83 587.33 625.26 595.65 634.00C603.97 642.74 612.28 658.44 620.60 666.68C628.92 674.92 637.23 678.15 645.55 683.45C653.87 688.75 666.34 695.99 670.50 698.50" fill="none" stroke="#c4566a" stroke-width="1.5"/><circle cx="271.30" cy="698.50" r="4.50" fill="url(#gRed)"/><circle cx="296.25" cy="684.10" r="4.50" fill="url(#gRed)"/><circle cx="321.20" cy="667.33" r="4.50" fill="url(#gRed)"/><circle cx="346.15" cy="635.50" r="4.50" fill="url(#gRed)"/><circle cx="371.10" cy="614.65" r="4.50" fill="url(#gRed)"/><circle cx="396.05" cy="636.15" r="4.50" fill="url(#gRed)"/><circle cx="421.00" cy="661.52" r="4.50" fill="url(#gRed)"/><circle cx="445.95" cy="683.02" r="4.50" fill="url(#gRed)"/><circle cx="470.90" cy="695.71" r="4.50" fill="url(#gRed)"/><circle cx="495.85" cy="684.10" r="4.50" fill="url(#gRed)"/><circle cx="520.80" cy="665.61" r="4.50" fill="url(#gRed)"/><circle cx="545.75" cy="636.37" r="4.50" fill="url(#gRed)"/><circle cx="570.70" cy="614.22" r="4.50" fill="url(#gRed)"/><circle cx="595.65" cy="634.00" r="4.50" fill="url(#gRed)"/><circle cx="620.60" cy="666.68" r="4.50" fill="url(#gRed)"/><circle cx="645.55" cy="683.45" r="4.50" fill="url(#gRed)"/><circle cx="670.50" cy="698.50" r="4.50" fill="url(#gRed)"/><path d="M266.30 586.70V709.30H676.40V586.70Z" fill="none" stroke="#222" stroke-width="1.2"/><path d="M261.00 698.50H266.30M263.50 687.75H266.30M261.00 677.00H266.30M263.50 666.25H266.30M261.00 655.50H266.30M263.50 644.75H266.30M261.00 634.00H266.30M263.50 623.25H266.30M261.00 612.50H266.30M263.50 601.75H266.30M261.00 591.00H266.30" stroke="#222" stroke-width="1.1"/><text x="257.10" y="702.60" font-size="11.6" fill="#222" text-anchor="end">0.0</text><text x="257.10" y="681.10" font-size="11.6" fill="#222" text-anchor="end">0.1</text><text x="257.10" y="659.60" font-size="11.6" fill="#222" text-anchor="end">0.2</text><text x="257.10" y="638.10" font-size="11.6" fill="#222" text-anchor="end">0.3</text><text x="257.10" y="616.60" font-size="11.6" fill="#222" text-anchor="end">0.4</text><text x="257.10" y="595.10" font-size="11.6" fill="#222" text-anchor="end">0.5</text><text transform="translate(231.80 648.00) rotate(-90)" font-size="14" fill="#222" text-anchor="middle">Energy (eV)</text><text x="283.00" y="703.10" font-size="11.4" fill="#111">initial state</text><path d="M276.3 701.10L281.4 702.80" stroke="#111" stroke-width="0.9"/><text x="596.20" y="703.90" font-size="11.4" fill="#111">final state</text><path d="M659.5 703.10L667.5 700.90" stroke="#111" stroke-width="0.9"/><circle cx="372.10" cy="600.30" r="5.9" fill="none" stroke="#ee3cee" stroke-width="1.1"/><text transform="translate(372.10 604.10) scale(0.72 1)" font-size="10.6" fill="#ee3cee" text-anchor="middle">1</text><circle cx="571.70" cy="600.30" r="5.9" fill="none" stroke="#ee3cee" stroke-width="1.1"/><text transform="translate(571.70 604.10) scale(0.72 1)" font-size="10.6" fill="#ee3cee" text-anchor="middle">2</text><text x="438.60" y="604.00" font-size="11.8" font-weight="bold" fill="#111"><tspan font-style="italic">E</tspan> = 0.39 eV</text><g font-size="14" fill="#111" text-anchor="middle"><text x="471.2" y="571.6">Migration path</text><text x="471.2" y="727.6">Migration path</text></g><text x="5.10" y="445.40" font-size="20.5" font-weight="bold" fill="#000">i</text><text x="224.40" y="446.20" font-size="20.5" font-weight="bold" fill="#000">j</text><text x="4.30" y="598.90" font-size="20.5" font-weight="bold" fill="#000">k</text><text x="224.70" y="598.70" font-size="20.5" font-weight="bold" fill="#000">l</text>
</svg></body></html>
